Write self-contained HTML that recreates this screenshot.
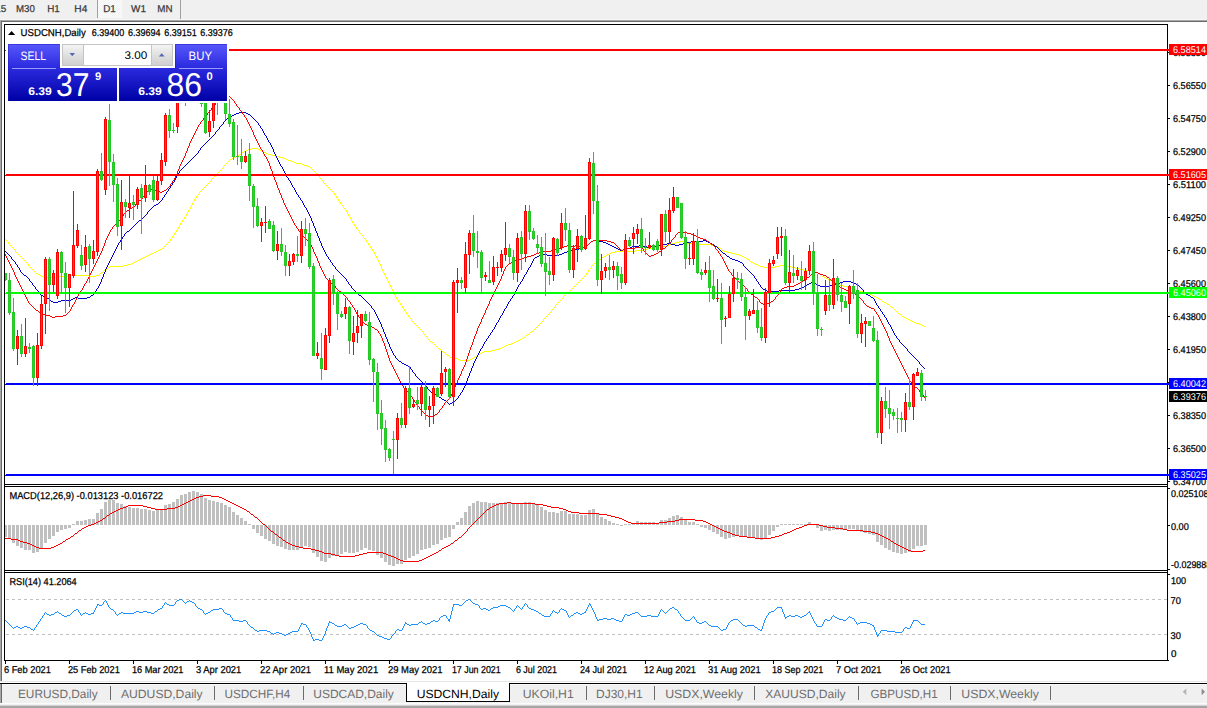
<!DOCTYPE html>
<html><head><meta charset="utf-8"><title>USDCNH,Daily</title>
<style>
html,body{margin:0;padding:0;background:#fff;}
body{width:1207px;height:708px;overflow:hidden;font-family:"Liberation Sans",sans-serif;}
svg{display:block;font-family:"Liberation Sans",sans-serif;text-rendering:geometricPrecision;}
svg rect, svg path.c{shape-rendering:crispEdges;}
</style></head><body>
<svg width="1207" height="708" viewBox="0 0 1207 708">
<defs>
<pattern id="dots" width="2" height="2" patternUnits="userSpaceOnUse"><rect width="2" height="2" fill="#f0f0f0"/><rect width="1" height="1" fill="#fff"/><rect x="1" y="1" width="1" height="1" fill="#fff"/></pattern>
<clipPath id="cm"><rect x="5" y="25" width="1162" height="459"/></clipPath>
<clipPath id="cmacd"><rect x="5" y="487" width="1162" height="83"/></clipPath>
<clipPath id="crsi"><rect x="5" y="573" width="1162" height="87"/></clipPath>
<linearGradient id="gb" x1="0" y1="0" x2="0" y2="1"><stop offset="0" stop-color="#5858fc"/><stop offset="0.4" stop-color="#2c2ce0"/><stop offset="1" stop-color="#0000a6"/></linearGradient>
<linearGradient id="gg" x1="0" y1="0" x2="0" y2="1"><stop offset="0" stop-color="#f4f4f4"/><stop offset="0.5" stop-color="#e0e0e0"/><stop offset="1" stop-color="#d0d0d0"/></linearGradient>
</defs>
<rect x="0" y="0" width="1207" height="708" fill="#fff" />
<rect x="0" y="0" width="1207" height="19" fill="#f0f0f0" />
<rect x="0" y="19" width="1207" height="1" fill="#f6f6f6" />
<rect x="0" y="20" width="1207" height="1" fill="#a8a8a8" />
<rect x="0" y="21" width="1207" height="1" fill="#696969" />
<rect x="0" y="21" width="1" height="660" fill="#a8a8a8" />
<rect x="1" y="22" width="1" height="659" fill="#696969" />
<text x="-4.8" y="11.8" font-size="10" fill="#3a3a3a" stroke="#3a3a3a" stroke-width="0.25" textLength="11" lengthAdjust="spacingAndGlyphs" >15</text>
<text x="16.0" y="11.8" font-size="10" fill="#3a3a3a" stroke="#3a3a3a" stroke-width="0.25" textLength="18.8" lengthAdjust="spacingAndGlyphs" >M30</text>
<text x="47.2" y="11.8" font-size="10" fill="#3a3a3a" stroke="#3a3a3a" stroke-width="0.25" textLength="12.6" lengthAdjust="spacingAndGlyphs" >H1</text>
<text x="74.3" y="11.8" font-size="10" fill="#3a3a3a" stroke="#3a3a3a" stroke-width="0.25" textLength="13" lengthAdjust="spacingAndGlyphs" >H4</text>
<rect x="97" y="0" width="1" height="18" fill="#a0a0a0" />
<rect x="98" y="0" width="24" height="18" fill="url(#dots)" />
<text x="103.2" y="11.8" font-size="10" fill="#3a3a3a" stroke="#3a3a3a" stroke-width="0.25" textLength="12.6" lengthAdjust="spacingAndGlyphs" >D1</text>
<text x="131.0" y="11.8" font-size="10" fill="#3a3a3a" stroke="#3a3a3a" stroke-width="0.25" textLength="14.9" lengthAdjust="spacingAndGlyphs" >W1</text>
<text x="157.3" y="11.8" font-size="10" fill="#3a3a3a" stroke="#3a3a3a" stroke-width="0.25" textLength="15.2" lengthAdjust="spacingAndGlyphs" >MN</text>
<rect x="180" y="0" width="1" height="19" fill="#a0a0a0" />
<rect x="4" y="24" width="1164" height="1" fill="#000" />
<rect x="4" y="484" width="1164" height="1" fill="#000" />
<rect x="4" y="486" width="1164" height="1" fill="#000" />
<rect x="4" y="570" width="1164" height="1" fill="#000" />
<rect x="4" y="572" width="1164" height="1" fill="#000" />
<rect x="4" y="660" width="1164" height="1" fill="#000" />
<rect x="4" y="24" width="1" height="637" fill="#000" />
<rect x="1167" y="24" width="1" height="637" fill="#000" />
<rect x="1168" y="85" width="2" height="1" fill="#000" />
<text x="1173" y="89" font-size="9.8" fill="#000" stroke="#000" stroke-width="0.25" textLength="33" lengthAdjust="spacingAndGlyphs" >6.56550</text>
<rect x="1168" y="118" width="2" height="1" fill="#000" />
<text x="1173" y="122" font-size="9.8" fill="#000" stroke="#000" stroke-width="0.25" textLength="33" lengthAdjust="spacingAndGlyphs" >6.54750</text>
<rect x="1168" y="151" width="2" height="1" fill="#000" />
<text x="1173" y="155" font-size="9.8" fill="#000" stroke="#000" stroke-width="0.25" textLength="33" lengthAdjust="spacingAndGlyphs" >6.52900</text>
<rect x="1168" y="184" width="2" height="1" fill="#000" />
<text x="1173" y="188" font-size="9.8" fill="#000" stroke="#000" stroke-width="0.25" textLength="33" lengthAdjust="spacingAndGlyphs" >6.51100</text>
<rect x="1168" y="217" width="2" height="1" fill="#000" />
<text x="1173" y="221" font-size="9.8" fill="#000" stroke="#000" stroke-width="0.25" textLength="33" lengthAdjust="spacingAndGlyphs" >6.49250</text>
<rect x="1168" y="250" width="2" height="1" fill="#000" />
<text x="1173" y="254" font-size="9.8" fill="#000" stroke="#000" stroke-width="0.25" textLength="33" lengthAdjust="spacingAndGlyphs" >6.47450</text>
<rect x="1168" y="283" width="2" height="1" fill="#000" />
<text x="1173" y="287" font-size="9.8" fill="#000" stroke="#000" stroke-width="0.25" textLength="33" lengthAdjust="spacingAndGlyphs" >6.45600</text>
<rect x="1168" y="316" width="2" height="1" fill="#000" />
<text x="1173" y="320" font-size="9.8" fill="#000" stroke="#000" stroke-width="0.25" textLength="33" lengthAdjust="spacingAndGlyphs" >6.43800</text>
<rect x="1168" y="349" width="2" height="1" fill="#000" />
<text x="1173" y="353" font-size="9.8" fill="#000" stroke="#000" stroke-width="0.25" textLength="33" lengthAdjust="spacingAndGlyphs" >6.41950</text>
<rect x="1168" y="382" width="2" height="1" fill="#000" />
<text x="1173" y="386" font-size="9.8" fill="#000" stroke="#000" stroke-width="0.25" textLength="33" lengthAdjust="spacingAndGlyphs" >6.40150</text>
<rect x="1168" y="415" width="2" height="1" fill="#000" />
<text x="1173" y="419" font-size="9.8" fill="#000" stroke="#000" stroke-width="0.25" textLength="33" lengthAdjust="spacingAndGlyphs" >6.38350</text>
<rect x="1168" y="448" width="2" height="1" fill="#000" />
<text x="1173" y="452" font-size="9.8" fill="#000" stroke="#000" stroke-width="0.25" textLength="33" lengthAdjust="spacingAndGlyphs" >6.36500</text>
<rect x="1168" y="481" width="2" height="1" fill="#000" />
<text x="1173" y="485" font-size="9.8" fill="#000" stroke="#000" stroke-width="0.25" textLength="33" lengthAdjust="spacingAndGlyphs" >6.34700</text>
<rect x="1168" y="52" width="2" height="1" fill="#000" />
<text x="1173" y="56" font-size="9.8" fill="#000" stroke="#000" stroke-width="0.25" textLength="33" lengthAdjust="spacingAndGlyphs" >6.58350</text>
<g clip-path="url(#cm)">
<path class="c" d="M5 239h1v1h-1zM6 240h1v1h-1zM7 241h1v1h-1zM8 242h1v2h-1zM9 244h1v1h-1zM10 245h1v1h-1zM11 246h1v1h-1zM12 247h1v1h-1zM13 248h1v1h-1zM14 249h1v1h-1zM15 250h1v2h-1zM16 252h1v1h-1zM17 253h1v1h-1zM18 254h1v1h-1zM19 255h1v1h-1zM20 256h1v1h-1zM21 257h1v1h-1zM22 258h1v1h-1zM23 259h1v1h-1zM24 260h1v1h-1zM25 261h1v1h-1zM26 262h1v1h-1zM27 263h1v1h-1zM28 264h1v2h-1zM29 266h1v1h-1zM30 267h1v1h-1zM31 268h1v1h-1zM32 269h1v1h-1zM33 270h1v1h-1zM34 271h1v1h-1zM35 272h1v1h-1zM36 273h2v1h-2zM38 274h2v1h-2zM40 275h1v1h-1zM41 276h2v1h-2zM43 277h1v1h-1zM44 277h5v1h-5zM49 277h7v1h-7zM56 276h7v1h-7zM63 276h8v1h-8zM71 275h8v1h-8zM79 275h8v1h-8zM87 275h3v1h-3zM90 276h3v1h-3zM93 276h3v1h-3zM96 275h2v1h-2zM98 275h1v1h-1zM99 274h1v1h-1zM100 273h1v1h-1zM101 272h2v1h-2zM103 271h1v1h-1zM104 270h1v1h-1zM105 269h2v1h-2zM107 268h1v1h-1zM108 267h2v1h-2zM110 266h11v1h-11zM121 266h2v1h-2zM123 265h4v1h-4zM127 264h4v1h-4zM131 263h1v1h-1zM132 263h1v1h-1zM133 262h2v1h-2zM135 261h2v1h-2zM137 260h2v1h-2zM139 259h2v1h-2zM141 258h2v1h-2zM143 257h2v1h-2zM145 256h2v1h-2zM147 255h2v1h-2zM149 254h2v1h-2zM151 253h1v1h-1zM152 253h2v1h-2zM154 252h2v1h-2zM156 251h2v1h-2zM158 250h2v1h-2zM160 249h1v1h-1zM161 249h1v1h-1zM162 248h1v1h-1zM163 247h1v1h-1zM164 246h1v1h-1zM165 245h1v1h-1zM166 244h1v1h-1zM167 243h1v1h-1zM168 242h1v1h-1zM169 241h1v1h-1zM170 239h1v2h-1zM171 238h1v1h-1zM172 236h1v2h-1zM173 235h1v1h-1zM174 233h1v2h-1zM175 232h1v1h-1zM176 230h1v2h-1zM177 229h1v1h-1zM178 227h1v2h-1zM179 225h1v2h-1zM180 223h1v2h-1zM181 222h1v1h-1zM182 220h1v2h-1zM183 219h1v1h-1zM184 217h1v2h-1zM185 216h1v1h-1zM186 214h1v2h-1zM187 212h1v2h-1zM188 210h1v2h-1zM189 209h1v1h-1zM190 207h1v2h-1zM191 205h1v2h-1zM192 203h1v2h-1zM193 202h1v1h-1zM193 201h1v1h-1zM194 199h1v2h-1zM195 198h1v1h-1zM196 196h1v2h-1zM197 195h1v1h-1zM198 194h1v1h-1zM199 192h1v2h-1zM200 191h1v1h-1zM201 190h1v1h-1zM202 189h1v1h-1zM203 188h1v1h-1zM204 187h1v1h-1zM205 186h1v1h-1zM206 185h1v1h-1zM207 184h1v1h-1zM208 183h1v1h-1zM209 182h1v1h-1zM210 181h1v1h-1zM211 179h1v2h-1zM212 178h1v1h-1zM213 177h1v1h-1zM214 176h1v1h-1zM215 175h1v1h-1zM216 174h1v1h-1zM217 173h1v1h-1zM218 172h1v1h-1zM219 171h1v1h-1zM220 170h1v1h-1zM221 169h1v1h-1zM222 168h1v1h-1zM223 166h1v2h-1zM224 165h1v1h-1zM225 164h1v1h-1zM226 163h1v1h-1zM227 162h1v1h-1zM228 161h1v1h-1zM229 160h1v1h-1zM230 159h2v1h-2zM232 158h1v1h-1zM233 158h1v1h-1zM234 157h2v1h-2zM236 156h1v1h-1zM237 156h1v1h-1zM238 155h1v1h-1zM239 154h2v1h-2zM241 153h1v1h-1zM242 152h2v1h-2zM244 151h1v1h-1zM245 151h1v1h-1zM246 150h2v1h-2zM248 149h1v1h-1zM249 149h2v1h-2zM251 148h2v1h-2zM253 148h4v1h-4zM257 148h1v1h-1zM258 149h2v1h-2zM260 150h1v1h-1zM261 150h1v1h-1zM262 151h2v1h-2zM264 152h1v1h-1zM265 152h1v1h-1zM266 153h2v1h-2zM268 154h1v1h-1zM269 154h2v1h-2zM271 155h2v1h-2zM273 155h2v1h-2zM275 156h2v1h-2zM277 156h2v1h-2zM279 157h2v1h-2zM281 157h2v1h-2zM283 158h2v1h-2zM285 158h1v1h-1zM286 159h2v1h-2zM288 160h1v1h-1zM289 160h2v1h-2zM291 161h2v1h-2zM293 161h1v1h-1zM294 162h2v1h-2zM296 163h1v1h-1zM297 163h4v1h-4zM301 163h1v1h-1zM302 164h2v1h-2zM304 165h1v1h-1zM305 165h2v1h-2zM307 166h2v1h-2zM309 166h1v1h-1zM310 167h1v1h-1zM311 168h1v1h-1zM312 169h1v1h-1zM313 170h1v1h-1zM314 171h1v1h-1zM315 172h1v1h-1zM316 173h1v1h-1zM317 174h1v1h-1zM318 175h1v1h-1zM319 176h1v2h-1zM320 178h1v1h-1zM321 179h1v1h-1zM322 180h1v1h-1zM323 181h1v2h-1zM324 183h1v1h-1zM325 184h1v1h-1zM326 185h1v1h-1zM327 186h1v1h-1zM328 187h1v1h-1zM329 188h1v1h-1zM330 189h1v1h-1zM331 190h1v1h-1zM332 191h1v1h-1zM333 192h1v1h-1zM334 193h1v2h-1zM335 195h1v1h-1zM336 196h1v2h-1zM337 198h1v1h-1zM338 199h1v2h-1zM339 201h1v1h-1zM340 202h1v2h-1zM341 204h1v1h-1zM342 205h1v1h-1zM343 206h1v2h-1zM344 208h1v1h-1zM345 209h1v1h-1zM346 210h1v2h-1zM347 212h1v2h-1zM348 214h1v2h-1zM349 216h1v1h-1zM350 217h1v2h-1zM351 219h1v2h-1zM352 221h1v2h-1zM353 223h1v1h-1zM354 224h1v2h-1zM355 226h1v1h-1zM356 227h1v2h-1zM357 229h1v1h-1zM358 230h1v1h-1zM359 231h1v2h-1zM360 233h1v1h-1zM361 234h1v1h-1zM362 235h1v1h-1zM363 236h1v2h-1zM364 238h1v1h-1zM365 239h1v1h-1zM366 240h1v2h-1zM367 242h1v1h-1zM368 243h1v2h-1zM369 245h1v1h-1zM370 246h1v2h-1zM371 248h1v1h-1zM372 249h1v2h-1zM373 251h1v1h-1zM374 252h1v2h-1zM375 254h1v2h-1zM376 256h1v2h-1zM377 258h1v1h-1zM377 259h1v1h-1zM378 260h1v2h-1zM379 262h1v2h-1zM380 264h1v2h-1zM381 266h1v1h-1zM381 267h1v2h-1zM382 269h1v2h-1zM383 271h1v2h-1zM384 273h1v2h-1zM385 275h1v1h-1zM385 276h1v1h-1zM386 277h1v2h-1zM387 279h1v2h-1zM388 281h1v2h-1zM389 283h1v1h-1zM389 284h1v1h-1zM390 285h1v2h-1zM391 287h1v2h-1zM392 289h1v2h-1zM393 291h1v1h-1zM393 292h1v1h-1zM394 293h1v2h-1zM395 295h1v2h-1zM396 297h1v2h-1zM397 299h1v1h-1zM398 300h1v2h-1zM399 302h1v1h-1zM400 303h1v2h-1zM401 305h1v1h-1zM402 306h1v2h-1zM403 308h1v1h-1zM404 309h1v2h-1zM405 311h1v1h-1zM406 312h1v2h-1zM407 314h1v1h-1zM408 315h1v2h-1zM409 317h1v1h-1zM410 318h1v1h-1zM411 319h1v2h-1zM412 321h1v1h-1zM413 322h1v1h-1zM414 323h1v1h-1zM415 324h1v1h-1zM416 325h1v1h-1zM417 326h1v1h-1zM418 327h1v1h-1zM419 328h1v1h-1zM420 329h1v1h-1zM421 330h1v1h-1zM422 331h1v1h-1zM423 332h1v2h-1zM424 334h1v1h-1zM425 335h1v1h-1zM426 336h1v1h-1zM427 337h1v2h-1zM428 339h1v1h-1zM429 340h1v1h-1zM430 341h1v1h-1zM431 342h2v1h-2zM433 343h1v1h-1zM434 344h1v1h-1zM435 345h1v1h-1zM436 346h1v1h-1zM437 347h1v1h-1zM438 348h1v1h-1zM439 349h2v1h-2zM441 350h1v1h-1zM442 351h1v1h-1zM443 352h2v1h-2zM445 353h1v1h-1zM446 354h1v1h-1zM447 355h2v1h-2zM449 356h1v1h-1zM450 357h2v1h-2zM452 358h1v1h-1zM453 358h4v1h-4zM457 358h1v1h-1zM458 359h2v1h-2zM460 360h1v1h-1zM461 360h4v1h-4zM465 360h4v1h-4zM469 360h1v1h-1zM470 359h2v1h-2zM472 358h1v1h-1zM473 358h1v1h-1zM474 357h1v1h-1zM475 356h2v1h-2zM477 355h1v1h-1zM478 354h2v1h-2zM480 353h1v1h-1zM481 353h1v1h-1zM482 352h2v1h-2zM484 351h1v1h-1zM485 351h4v1h-4zM489 351h2v1h-2zM491 350h2v1h-2zM493 350h2v1h-2zM495 349h2v1h-2zM497 349h2v1h-2zM499 348h2v1h-2zM501 348h1v1h-1zM502 347h2v1h-2zM504 346h1v1h-1zM505 346h1v1h-1zM506 345h2v1h-2zM508 344h1v1h-1zM509 344h2v1h-2zM511 343h2v1h-2zM513 343h1v1h-1zM514 342h2v1h-2zM516 341h1v1h-1zM517 341h1v1h-1zM518 340h2v1h-2zM520 339h1v1h-1zM521 339h1v1h-1zM522 338h1v1h-1zM523 337h2v1h-2zM525 336h1v1h-1zM526 335h1v1h-1zM527 334h2v1h-2zM529 333h1v1h-1zM530 332h1v1h-1zM531 331h2v1h-2zM533 330h1v1h-1zM534 329h1v1h-1zM535 328h1v1h-1zM536 327h1v1h-1zM537 326h1v1h-1zM538 325h1v1h-1zM539 324h1v1h-1zM540 323h1v1h-1zM541 322h1v1h-1zM542 321h1v1h-1zM543 319h1v2h-1zM544 318h1v1h-1zM545 317h1v1h-1zM546 316h1v1h-1zM547 315h1v1h-1zM548 314h1v1h-1zM549 313h1v1h-1zM550 312h1v1h-1zM551 310h1v2h-1zM552 309h1v1h-1zM553 308h1v1h-1zM554 307h1v1h-1zM555 305h1v2h-1zM556 304h1v1h-1zM557 303h1v1h-1zM558 302h1v1h-1zM559 301h1v1h-1zM560 300h1v1h-1zM561 299h1v1h-1zM562 298h1v1h-1zM563 296h1v2h-1zM564 295h1v1h-1zM565 294h1v1h-1zM566 293h1v1h-1zM567 292h2v1h-2zM569 291h1v1h-1zM570 290h1v1h-1zM571 289h1v1h-1zM572 288h1v1h-1zM573 287h1v1h-1zM574 286h1v1h-1zM575 285h1v1h-1zM576 284h1v1h-1zM577 283h1v1h-1zM578 282h1v1h-1zM579 281h1v1h-1zM580 280h1v1h-1zM581 279h1v1h-1zM582 278h1v1h-1zM583 277h1v1h-1zM584 276h1v1h-1zM585 275h1v1h-1zM586 273h1v2h-1zM587 272h1v1h-1zM588 270h1v2h-1zM589 269h1v1h-1zM590 268h1v1h-1zM591 266h1v2h-1zM592 265h1v1h-1zM593 264h1v1h-1zM594 263h1v1h-1zM595 262h2v1h-2zM597 261h1v1h-1zM598 260h1v1h-1zM599 259h2v1h-2zM601 258h1v1h-1zM602 257h2v1h-2zM604 256h1v1h-1zM605 256h1v1h-1zM606 255h1v1h-1zM607 254h2v1h-2zM609 253h2v1h-2zM611 252h2v1h-2zM613 252h2v1h-2zM615 251h2v1h-2zM617 251h4v1h-4zM621 251h4v1h-4zM625 251h4v1h-4zM629 251h4v1h-4zM633 251h2v1h-2zM635 250h2v1h-2zM637 250h4v1h-4zM641 250h2v1h-2zM643 249h2v1h-2zM645 249h2v1h-2zM647 248h2v1h-2zM649 248h4v1h-4zM653 248h2v1h-2zM655 247h2v1h-2zM657 247h2v1h-2zM659 246h2v1h-2zM661 246h4v1h-4zM665 246h2v1h-2zM667 245h2v1h-2zM669 245h1v1h-1zM670 244h2v1h-2zM672 243h1v1h-1zM673 243h2v1h-2zM675 242h2v1h-2zM677 242h2v1h-2zM679 241h2v1h-2zM681 241h2v1h-2zM683 242h2v1h-2zM685 242h2v1h-2zM687 243h2v1h-2zM689 243h4v1h-4zM693 243h2v1h-2zM695 244h2v1h-2zM697 244h4v1h-4zM701 244h4v1h-4zM705 244h4v1h-4zM709 244h2v1h-2zM711 245h2v1h-2zM713 245h2v1h-2zM715 246h2v1h-2zM717 246h1v1h-1zM718 247h1v1h-1zM719 248h2v1h-2zM721 249h1v1h-1zM722 250h2v1h-2zM724 251h1v1h-1zM725 251h2v1h-2zM727 252h2v1h-2zM729 252h2v1h-2zM731 253h2v1h-2zM733 253h2v1h-2zM735 254h2v1h-2zM737 254h2v1h-2zM739 255h2v1h-2zM741 255h1v1h-1zM742 256h2v1h-2zM744 257h1v1h-1zM745 257h1v1h-1zM746 258h1v1h-1zM747 259h2v1h-2zM749 260h1v1h-1zM750 261h1v1h-1zM751 262h2v1h-2zM753 263h2v1h-2zM755 264h2v1h-2zM757 264h1v1h-1zM758 265h2v1h-2zM760 266h1v1h-1zM761 266h2v1h-2zM763 267h2v1h-2zM765 267h4v1h-4zM769 267h4v1h-4zM773 267h2v1h-2zM775 266h2v1h-2zM777 266h2v1h-2zM779 265h2v1h-2zM781 265h4v1h-4zM785 265h2v1h-2zM787 266h2v1h-2zM789 266h2v1h-2zM791 267h2v1h-2zM793 267h2v1h-2zM795 268h2v1h-2zM797 268h2v1h-2zM799 269h2v1h-2zM801 269h2v1h-2zM803 270h2v1h-2zM805 270h4v1h-4zM809 270h2v1h-2zM811 271h2v1h-2zM813 271h2v1h-2zM815 272h2v1h-2zM817 272h1v1h-1zM818 273h1v1h-1zM819 274h2v1h-2zM821 275h1v1h-1zM822 276h2v1h-2zM824 277h1v1h-1zM825 277h1v1h-1zM826 278h2v1h-2zM828 279h1v1h-1zM829 279h1v1h-1zM830 280h2v1h-2zM832 281h1v1h-1zM833 281h1v1h-1zM834 282h2v1h-2zM836 283h1v1h-1zM837 283h1v1h-1zM838 284h2v1h-2zM840 285h1v1h-1zM841 285h2v1h-2zM843 286h2v1h-2zM845 286h2v1h-2zM847 287h2v1h-2zM849 287h2v1h-2zM851 288h2v1h-2zM853 288h1v1h-1zM854 289h2v1h-2zM856 290h1v1h-1zM857 290h2v1h-2zM859 291h2v1h-2zM861 291h2v1h-2zM863 292h2v1h-2zM865 292h2v1h-2zM867 293h2v1h-2zM869 293h1v1h-1zM870 294h2v1h-2zM872 295h1v1h-1zM873 295h1v1h-1zM874 296h2v1h-2zM876 297h1v1h-1zM877 297h1v1h-1zM878 298h1v1h-1zM879 299h2v1h-2zM881 300h1v1h-1zM882 301h2v1h-2zM884 302h1v1h-1zM885 302h1v1h-1zM886 303h1v1h-1zM887 304h2v1h-2zM889 305h1v1h-1zM890 306h1v1h-1zM891 307h2v1h-2zM893 308h1v1h-1zM894 309h1v1h-1zM895 310h1v1h-1zM896 311h1v1h-1zM897 312h1v1h-1zM898 313h1v1h-1zM899 314h2v1h-2zM901 315h1v1h-1zM902 316h2v1h-2zM904 317h1v1h-1zM905 317h1v1h-1zM906 318h2v1h-2zM908 319h1v1h-1zM909 319h1v1h-1zM910 320h2v1h-2zM912 321h1v1h-1zM913 321h1v1h-1zM914 322h2v1h-2zM916 323h1v1h-1zM917 323h2v1h-2zM919 324h2v1h-2zM921 324h1v1h-1zM922 325h2v1h-2zM924 326h1v1h-1z" fill="#ffff00"/>
<path class="c" d="M5 251h1v1h-1zM6 252h1v1h-1zM7 253h1v1h-1zM8 254h1v1h-1zM9 255h1v1h-1zM10 256h1v1h-1zM11 257h1v2h-1zM12 259h1v1h-1zM13 260h1v1h-1zM14 261h1v1h-1zM15 262h1v2h-1zM16 264h1v1h-1zM17 265h1v2h-1zM18 267h1v1h-1zM19 268h1v2h-1zM20 270h1v2h-1zM21 272h1v1h-1zM22 273h1v1h-1zM23 274h1v1h-1zM24 275h2v1h-2zM26 276h1v1h-1zM27 277h1v1h-1zM28 278h1v1h-1zM29 279h1v2h-1zM30 281h1v1h-1zM31 282h1v1h-1zM32 283h1v2h-1zM33 285h1v1h-1zM34 286h1v1h-1zM35 287h1v2h-1zM36 289h1v1h-1zM37 290h1v1h-1zM38 291h1v2h-1zM39 293h1v1h-1zM40 294h1v1h-1zM41 295h2v1h-2zM43 296h2v1h-2zM45 297h1v1h-1zM46 297h1v1h-1zM47 298h2v1h-2zM49 299h1v1h-1zM50 300h1v1h-1zM51 301h2v1h-2zM53 302h3v1h-3zM56 302h2v1h-2zM58 301h3v1h-3zM61 300h1v1h-1zM62 300h8v1h-8zM70 300h1v1h-1zM71 299h2v1h-2zM73 298h2v1h-2zM75 297h1v1h-1zM76 297h2v1h-2zM78 298h2v1h-2zM80 298h5v1h-5zM85 298h2v1h-2zM87 297h2v1h-2zM89 297h1v1h-1zM90 296h1v1h-1zM91 295h2v1h-2zM93 294h1v1h-1zM94 292h1v2h-1zM95 291h1v1h-1zM96 289h1v2h-1zM97 288h1v1h-1zM98 286h1v2h-1zM99 284h1v2h-1zM100 282h1v2h-1zM101 281h1v1h-1zM101 279h1v2h-1zM102 277h1v2h-1zM103 274h1v3h-1zM104 272h1v2h-1zM105 271h1v1h-1zM105 269h1v2h-1zM106 267h1v2h-1zM107 265h1v2h-1zM108 263h1v2h-1zM109 262h1v1h-1zM109 261h1v1h-1zM110 259h1v2h-1zM111 257h1v2h-1zM112 255h1v2h-1zM113 254h1v1h-1zM113 253h1v1h-1zM114 251h1v2h-1zM115 249h1v2h-1zM116 247h1v2h-1zM117 246h1v1h-1zM117 245h1v1h-1zM118 243h1v2h-1zM119 242h1v1h-1zM120 240h1v2h-1zM121 239h1v1h-1zM122 237h1v2h-1zM123 236h1v1h-1zM124 234h1v2h-1zM125 233h1v1h-1zM126 232h1v1h-1zM127 231h2v1h-2zM129 230h1v1h-1zM130 229h1v1h-1zM131 228h1v1h-1zM132 227h1v1h-1zM133 226h1v1h-1zM134 225h1v1h-1zM135 224h1v1h-1zM136 223h1v1h-1zM137 222h1v1h-1zM138 221h1v1h-1zM139 220h2v1h-2zM141 219h1v1h-1zM142 218h1v1h-1zM143 217h1v1h-1zM144 216h1v1h-1zM145 215h1v1h-1zM146 214h1v1h-1zM147 212h1v2h-1zM148 211h1v1h-1zM149 210h1v1h-1zM150 209h1v1h-1zM151 208h1v1h-1zM152 207h1v1h-1zM153 206h1v1h-1zM154 205h2v1h-2zM156 204h1v1h-1zM157 204h1v1h-1zM158 203h1v1h-1zM159 202h1v1h-1zM160 201h1v1h-1zM161 200h1v1h-1zM162 198h1v2h-1zM163 197h1v1h-1zM164 195h1v2h-1zM165 194h1v1h-1zM166 192h1v2h-1zM167 191h1v1h-1zM168 189h1v2h-1zM169 188h1v1h-1zM170 186h1v2h-1zM171 185h1v1h-1zM172 183h1v2h-1zM173 182h1v1h-1zM174 180h1v2h-1zM175 178h1v2h-1zM176 176h1v2h-1zM177 175h1v1h-1zM177 174h1v1h-1zM178 173h1v1h-1zM179 171h1v2h-1zM180 170h1v1h-1zM181 169h1v1h-1zM182 168h1v1h-1zM183 167h1v1h-1zM184 166h1v1h-1zM185 165h1v1h-1zM186 164h1v1h-1zM187 163h1v1h-1zM188 162h1v1h-1zM189 161h1v1h-1zM190 160h1v1h-1zM191 159h1v1h-1zM192 158h1v1h-1zM193 157h1v1h-1zM194 156h1v1h-1zM195 155h1v1h-1zM196 154h1v1h-1zM197 153h1v1h-1zM198 151h1v2h-1zM199 150h1v1h-1zM200 148h1v2h-1zM201 147h1v1h-1zM202 146h1v1h-1zM203 145h1v1h-1zM204 144h1v1h-1zM205 143h1v1h-1zM206 142h1v1h-1zM207 141h1v1h-1zM208 140h1v1h-1zM209 139h1v1h-1zM210 138h1v1h-1zM211 137h1v1h-1zM212 136h1v1h-1zM213 135h1v1h-1zM214 134h1v1h-1zM215 132h1v2h-1zM216 131h1v1h-1zM217 130h1v1h-1zM218 129h1v1h-1zM219 127h1v2h-1zM220 126h1v1h-1zM221 125h1v1h-1zM222 124h1v1h-1zM223 122h1v2h-1zM224 121h1v1h-1zM225 120h1v1h-1zM226 119h1v1h-1zM227 118h2v1h-2zM229 117h1v1h-1zM230 116h2v1h-2zM232 115h1v1h-1zM233 115h1v1h-1zM234 114h2v1h-2zM236 113h1v1h-1zM237 113h2v1h-2zM239 112h2v1h-2zM241 112h4v1h-4zM245 112h1v1h-1zM246 113h2v1h-2zM248 114h1v1h-1zM249 114h1v1h-1zM250 115h1v1h-1zM251 116h1v1h-1zM252 117h1v1h-1zM253 118h1v1h-1zM254 119h1v1h-1zM255 120h1v1h-1zM256 121h1v1h-1zM257 122h1v1h-1zM258 123h1v2h-1zM259 125h1v1h-1zM260 126h1v2h-1zM261 128h1v1h-1zM262 129h1v2h-1zM263 131h1v2h-1zM264 133h1v2h-1zM265 135h1v1h-1zM266 136h1v2h-1zM267 138h1v2h-1zM268 140h1v2h-1zM269 142h1v1h-1zM270 143h1v2h-1zM271 145h1v2h-1zM272 147h1v2h-1zM273 149h1v1h-1zM273 150h1v2h-1zM274 152h1v2h-1zM275 154h1v2h-1zM276 156h1v2h-1zM277 158h1v1h-1zM277 159h1v1h-1zM278 160h1v2h-1zM279 162h1v2h-1zM280 164h1v2h-1zM281 166h1v1h-1zM282 167h1v2h-1zM283 169h1v2h-1zM284 171h1v2h-1zM285 173h1v1h-1zM285 174h1v1h-1zM286 175h1v2h-1zM287 177h1v1h-1zM288 178h1v2h-1zM289 180h1v1h-1zM290 181h1v2h-1zM291 183h1v2h-1zM292 185h1v2h-1zM293 187h1v1h-1zM294 188h1v2h-1zM295 190h1v2h-1zM296 192h1v2h-1zM297 194h1v1h-1zM298 195h1v2h-1zM299 197h1v1h-1zM300 198h1v2h-1zM301 200h1v1h-1zM302 201h1v2h-1zM303 203h1v2h-1zM304 205h1v2h-1zM305 207h1v1h-1zM306 208h1v2h-1zM307 210h1v2h-1zM308 212h1v2h-1zM309 214h1v2h-1zM310 216h1v2h-1zM311 218h1v3h-1zM312 221h1v2h-1zM313 223h1v1h-1zM313 224h1v2h-1zM314 226h1v2h-1zM315 228h1v3h-1zM316 231h1v2h-1zM317 233h1v1h-1zM317 234h1v2h-1zM318 236h1v2h-1zM319 238h1v3h-1zM320 241h1v2h-1zM321 243h1v1h-1zM321 244h1v2h-1zM322 246h1v2h-1zM323 248h1v2h-1zM324 250h1v2h-1zM325 252h1v1h-1zM325 253h1v1h-1zM326 254h1v2h-1zM327 256h1v1h-1zM328 257h1v2h-1zM329 259h1v1h-1zM330 260h1v2h-1zM331 262h1v1h-1zM332 263h1v2h-1zM333 265h1v1h-1zM334 266h1v1h-1zM335 267h1v2h-1zM336 269h1v1h-1zM337 270h1v1h-1zM338 271h1v1h-1zM339 272h1v1h-1zM340 273h1v1h-1zM341 274h1v1h-1zM342 275h1v1h-1zM343 276h1v1h-1zM344 277h1v1h-1zM345 278h1v1h-1zM346 279h1v2h-1zM347 281h1v1h-1zM348 282h1v2h-1zM349 284h1v1h-1zM350 285h1v1h-1zM351 286h1v2h-1zM352 288h1v1h-1zM353 289h1v1h-1zM354 290h1v1h-1zM355 291h1v1h-1zM356 292h1v1h-1zM357 293h1v1h-1zM358 294h1v1h-1zM359 295h2v1h-2zM361 296h1v1h-1zM362 297h1v1h-1zM363 298h1v1h-1zM364 299h1v1h-1zM365 300h1v1h-1zM366 301h1v1h-1zM367 302h1v1h-1zM368 303h1v1h-1zM369 304h1v1h-1zM370 305h1v1h-1zM371 306h1v2h-1zM372 308h1v1h-1zM373 309h1v1h-1zM374 310h1v2h-1zM375 312h1v2h-1zM376 314h1v2h-1zM377 316h1v2h-1zM378 318h1v2h-1zM379 320h1v2h-1zM380 322h1v2h-1zM381 324h1v1h-1zM381 325h1v2h-1zM382 327h1v2h-1zM383 329h1v3h-1zM384 332h1v2h-1zM385 334h1v1h-1zM385 335h1v2h-1zM386 337h1v2h-1zM387 339h1v3h-1zM388 342h1v2h-1zM389 344h1v1h-1zM389 345h1v2h-1zM390 347h1v2h-1zM391 349h1v2h-1zM392 351h1v2h-1zM393 353h1v1h-1zM393 354h1v1h-1zM394 355h1v1h-1zM395 356h1v2h-1zM396 358h1v1h-1zM397 359h1v1h-1zM398 360h1v1h-1zM399 361h2v1h-2zM401 362h1v1h-1zM402 363h2v1h-2zM404 364h1v1h-1zM405 364h1v1h-1zM406 365h2v1h-2zM408 366h1v1h-1zM409 366h1v1h-1zM410 367h1v2h-1zM411 369h1v1h-1zM412 370h1v2h-1zM413 372h1v1h-1zM414 373h1v1h-1zM415 374h1v2h-1zM416 376h1v1h-1zM417 377h1v1h-1zM418 378h1v1h-1zM419 379h1v1h-1zM420 380h1v1h-1zM421 381h1v1h-1zM422 382h1v1h-1zM423 383h1v1h-1zM424 384h1v1h-1zM425 385h1v1h-1zM426 386h1v1h-1zM427 387h1v2h-1zM428 389h1v1h-1zM429 390h1v1h-1zM430 391h1v1h-1zM431 392h2v1h-2zM433 393h1v1h-1zM434 394h2v1h-2zM436 395h1v1h-1zM437 395h1v1h-1zM438 396h1v1h-1zM439 397h2v1h-2zM441 398h1v1h-1zM442 399h2v1h-2zM444 400h1v1h-1zM445 400h1v1h-1zM446 401h1v1h-1zM447 402h1v1h-1zM448 403h1v1h-1zM449 404h1v1h-1zM450 403h2v1h-2zM452 402h1v1h-1zM453 402h1v1h-1zM454 401h1v1h-1zM455 400h1v1h-1zM456 399h1v1h-1zM457 398h1v1h-1zM458 396h1v2h-1zM459 395h1v1h-1zM460 393h1v2h-1zM461 392h1v1h-1zM462 390h1v2h-1zM463 388h1v2h-1zM464 386h1v2h-1zM465 385h1v1h-1zM465 383h1v2h-1zM466 381h1v2h-1zM467 378h1v3h-1zM468 376h1v2h-1zM469 375h1v1h-1zM469 373h1v2h-1zM470 371h1v2h-1zM471 368h1v3h-1zM472 366h1v2h-1zM473 365h1v1h-1zM473 363h1v2h-1zM474 361h1v2h-1zM475 359h1v2h-1zM476 357h1v2h-1zM477 356h1v1h-1zM477 355h1v1h-1zM478 353h1v2h-1zM479 351h1v2h-1zM480 349h1v2h-1zM481 348h1v1h-1zM482 346h1v2h-1zM483 344h1v2h-1zM484 342h1v2h-1zM485 341h1v1h-1zM486 339h1v2h-1zM487 338h1v1h-1zM488 336h1v2h-1zM489 335h1v1h-1zM490 333h1v2h-1zM491 332h1v1h-1zM492 330h1v2h-1zM493 329h1v1h-1zM494 327h1v2h-1zM495 325h1v2h-1zM496 323h1v2h-1zM497 322h1v1h-1zM498 320h1v2h-1zM499 318h1v2h-1zM500 316h1v2h-1zM501 315h1v1h-1zM502 313h1v2h-1zM503 311h1v2h-1zM504 309h1v2h-1zM505 308h1v1h-1zM506 306h1v2h-1zM507 304h1v2h-1zM508 302h1v2h-1zM509 301h1v1h-1zM510 299h1v2h-1zM511 298h1v1h-1zM512 296h1v2h-1zM513 295h1v1h-1zM514 293h1v2h-1zM515 291h1v2h-1zM516 289h1v2h-1zM517 288h1v1h-1zM517 287h1v1h-1zM518 285h1v2h-1zM519 284h1v1h-1zM520 282h1v2h-1zM521 281h1v1h-1zM522 279h1v2h-1zM523 277h1v2h-1zM524 275h1v2h-1zM525 274h1v1h-1zM526 272h1v2h-1zM527 270h1v2h-1zM528 268h1v2h-1zM529 267h1v1h-1zM530 265h1v2h-1zM531 263h1v2h-1zM532 261h1v2h-1zM533 260h1v1h-1zM533 259h1v1h-1zM534 258h1v1h-1zM535 257h2v1h-2zM537 256h2v1h-2zM539 255h2v1h-2zM541 255h2v1h-2zM543 254h2v1h-2zM545 254h2v1h-2zM547 255h2v1h-2zM549 255h4v1h-4zM553 255h4v1h-4zM557 255h2v1h-2zM559 254h2v1h-2zM561 254h1v1h-1zM562 253h2v1h-2zM564 252h1v1h-1zM565 252h2v1h-2zM567 251h2v1h-2zM569 251h2v1h-2zM571 250h2v1h-2zM573 250h2v1h-2zM575 249h2v1h-2zM577 249h2v1h-2zM579 248h2v1h-2zM581 248h2v1h-2zM583 247h2v1h-2zM585 247h1v1h-1zM586 246h1v1h-1zM587 245h1v1h-1zM588 244h1v1h-1zM589 243h1v1h-1zM590 242h1v1h-1zM591 241h2v1h-2zM593 240h4v1h-4zM597 240h2v1h-2zM599 241h2v1h-2zM601 241h2v1h-2zM603 242h2v1h-2zM605 242h1v1h-1zM606 243h2v1h-2zM608 244h1v1h-1zM609 244h1v1h-1zM610 245h2v1h-2zM612 246h1v1h-1zM613 246h1v1h-1zM614 247h2v1h-2zM616 248h1v1h-1zM617 248h1v1h-1zM618 249h2v1h-2zM620 250h1v1h-1zM621 250h2v1h-2zM623 249h2v1h-2zM625 249h2v1h-2zM627 248h2v1h-2zM629 248h1v1h-1zM630 247h2v1h-2zM632 246h1v1h-1zM633 246h4v1h-4zM637 246h2v1h-2zM639 245h2v1h-2zM641 245h2v1h-2zM643 246h2v1h-2zM645 246h2v1h-2zM647 247h2v1h-2zM649 247h2v1h-2zM651 246h2v1h-2zM653 246h4v1h-4zM657 246h2v1h-2zM659 245h2v1h-2zM661 245h2v1h-2zM663 244h2v1h-2zM665 244h2v1h-2zM667 243h2v1h-2zM669 243h2v1h-2zM671 244h2v1h-2zM673 244h2v1h-2zM675 245h2v1h-2zM677 245h2v1h-2zM679 244h2v1h-2zM681 244h2v1h-2zM683 243h2v1h-2zM685 243h2v1h-2zM687 242h2v1h-2zM689 242h2v1h-2zM691 241h2v1h-2zM693 241h4v1h-4zM697 241h4v1h-4zM701 241h2v1h-2zM703 240h2v1h-2zM705 240h1v1h-1zM706 241h2v1h-2zM708 242h1v1h-1zM709 242h1v1h-1zM710 243h2v1h-2zM712 244h1v1h-1zM713 244h1v1h-1zM714 245h1v1h-1zM715 246h2v1h-2zM717 247h1v1h-1zM718 248h1v1h-1zM719 249h1v1h-1zM720 250h1v1h-1zM721 251h1v1h-1zM722 252h1v1h-1zM723 253h2v1h-2zM725 254h1v1h-1zM726 255h1v1h-1zM727 256h2v1h-2zM729 257h1v1h-1zM730 258h2v1h-2zM732 259h1v1h-1zM733 259h2v1h-2zM735 260h2v1h-2zM737 260h1v1h-1zM738 261h2v1h-2zM740 262h1v1h-1zM741 262h1v1h-1zM742 263h1v1h-1zM743 264h1v2h-1zM744 266h1v1h-1zM745 267h1v1h-1zM746 268h1v1h-1zM747 269h1v1h-1zM748 270h1v1h-1zM749 271h1v1h-1zM750 272h1v1h-1zM751 273h1v1h-1zM752 274h1v1h-1zM753 275h1v1h-1zM754 276h1v2h-1zM755 278h1v1h-1zM756 279h1v2h-1zM757 281h1v1h-1zM758 282h1v2h-1zM759 284h1v1h-1zM760 285h1v2h-1zM761 287h1v1h-1zM762 288h1v1h-1zM763 289h2v1h-2zM765 290h2v1h-2zM767 291h2v1h-2zM769 291h4v1h-4zM773 291h4v1h-4zM777 291h2v1h-2zM779 290h2v1h-2zM781 290h4v1h-4zM785 290h4v1h-4zM789 290h4v1h-4zM793 290h2v1h-2zM795 289h2v1h-2zM797 289h2v1h-2zM799 288h2v1h-2zM801 288h1v1h-1zM802 287h2v1h-2zM804 286h1v1h-1zM805 286h1v1h-1zM806 285h1v1h-1zM807 284h2v1h-2zM809 283h2v1h-2zM811 282h2v1h-2zM813 282h1v1h-1zM814 283h2v1h-2zM816 284h1v1h-1zM817 284h1v1h-1zM818 285h2v1h-2zM820 286h1v1h-1zM821 286h4v1h-4zM825 286h4v1h-4zM829 286h1v1h-1zM830 285h2v1h-2zM832 284h1v1h-1zM833 284h4v1h-4zM837 284h1v1h-1zM838 283h2v1h-2zM840 282h1v1h-1zM841 282h2v1h-2zM843 281h2v1h-2zM845 281h4v1h-4zM849 281h2v1h-2zM851 282h2v1h-2zM853 282h1v1h-1zM854 283h2v1h-2zM856 284h1v1h-1zM857 284h1v1h-1zM858 285h1v1h-1zM859 286h1v1h-1zM860 287h1v1h-1zM861 288h1v1h-1zM862 289h1v1h-1zM863 290h1v2h-1zM864 292h1v1h-1zM865 293h1v1h-1zM866 294h2v1h-2zM868 295h1v1h-1zM869 295h1v1h-1zM870 296h1v1h-1zM871 297h2v1h-2zM873 298h1v1h-1zM874 299h1v2h-1zM875 301h1v2h-1zM876 303h1v2h-1zM877 305h1v1h-1zM878 306h1v2h-1zM879 308h1v1h-1zM880 309h1v2h-1zM881 311h1v1h-1zM882 312h1v2h-1zM883 314h1v1h-1zM884 315h1v2h-1zM885 317h1v1h-1zM886 318h1v2h-1zM887 320h1v2h-1zM888 322h1v2h-1zM889 324h1v1h-1zM890 325h1v2h-1zM891 327h1v2h-1zM892 329h1v2h-1zM893 331h1v1h-1zM893 332h1v1h-1zM894 333h1v2h-1zM895 335h1v1h-1zM896 336h1v2h-1zM897 338h1v1h-1zM898 339h1v1h-1zM899 340h1v2h-1zM900 342h1v1h-1zM901 343h1v1h-1zM902 344h1v1h-1zM903 345h1v1h-1zM904 346h1v1h-1zM905 347h1v1h-1zM906 348h1v1h-1zM907 349h1v2h-1zM908 351h1v1h-1zM909 352h1v1h-1zM910 353h1v1h-1zM911 354h1v1h-1zM912 355h1v1h-1zM913 356h1v1h-1zM914 357h1v1h-1zM915 358h1v1h-1zM916 359h1v1h-1zM917 360h1v1h-1zM918 361h1v1h-1zM919 362h1v2h-1zM920 364h1v1h-1zM921 365h1v1h-1zM922 366h1v1h-1zM923 367h1v1h-1zM924 368h1v1h-1z" fill="#0000cd"/>
<path class="c" d="M5 254h1v2h-1zM6 256h1v2h-1zM7 258h1v2h-1zM8 260h1v2h-1zM9 262h1v1h-1zM9 263h1v1h-1zM10 264h1v2h-1zM11 266h1v2h-1zM12 268h1v2h-1zM13 270h1v2h-1zM14 272h1v1h-1zM14 273h1v2h-1zM15 275h1v2h-1zM16 277h1v2h-1zM17 279h1v2h-1zM18 281h1v2h-1zM19 283h1v1h-1zM19 284h1v1h-1zM20 285h1v2h-1zM21 287h1v2h-1zM22 289h1v2h-1zM23 291h1v2h-1zM24 293h1v1h-1zM24 294h1v1h-1zM25 295h1v2h-1zM26 297h1v2h-1zM27 299h1v2h-1zM28 301h1v1h-1zM28 302h1v1h-1zM29 303h1v1h-1zM30 304h1v1h-1zM31 305h1v1h-1zM32 306h1v1h-1zM33 307h1v1h-1zM34 308h1v1h-1zM35 309h1v1h-1zM36 310h2v1h-2zM38 311h1v1h-1zM39 312h1v1h-1zM40 313h2v1h-2zM42 314h4v1h-4zM46 315h2v1h-2zM48 315h2v1h-2zM50 316h2v1h-2zM52 317h1v1h-1zM53 317h2v1h-2zM55 316h2v1h-2zM57 316h4v1h-4zM61 316h2v1h-2zM63 315h2v1h-2zM65 315h1v1h-1zM66 314h1v1h-1zM67 313h1v1h-1zM68 312h1v1h-1zM69 311h1v1h-1zM70 309h1v2h-1zM71 307h1v2h-1zM72 305h1v2h-1zM73 304h1v1h-1zM74 302h1v2h-1zM75 300h1v2h-1zM76 298h1v2h-1zM77 297h1v1h-1zM77 296h1v1h-1zM78 294h1v2h-1zM79 293h1v1h-1zM80 291h1v2h-1zM81 290h1v1h-1zM82 288h1v2h-1zM83 286h1v2h-1zM84 284h1v2h-1zM85 283h1v1h-1zM86 281h1v2h-1zM87 279h1v2h-1zM88 277h1v2h-1zM89 276h1v1h-1zM89 275h1v1h-1zM90 273h1v2h-1zM91 271h1v2h-1zM92 269h1v2h-1zM93 267h1v2h-1zM94 265h1v2h-1zM95 263h1v2h-1zM96 261h1v2h-1zM97 260h1v1h-1zM97 259h1v1h-1zM98 257h1v2h-1zM99 255h1v2h-1zM100 253h1v2h-1zM101 251h1v2h-1zM102 248h1v3h-1zM103 246h1v2h-1zM104 243h1v3h-1zM105 242h1v1h-1zM105 240h1v2h-1zM106 238h1v2h-1zM107 236h1v2h-1zM108 234h1v2h-1zM109 233h1v1h-1zM109 232h1v1h-1zM110 230h1v2h-1zM111 229h1v1h-1zM112 227h1v2h-1zM113 226h1v1h-1zM114 225h1v1h-1zM115 224h2v1h-2zM117 223h1v1h-1zM118 221h1v2h-1zM119 220h1v1h-1zM120 218h1v2h-1zM121 217h1v1h-1zM122 216h1v1h-1zM123 214h1v2h-1zM124 213h1v1h-1zM125 212h1v1h-1zM126 211h1v1h-1zM127 210h2v1h-2zM129 209h1v1h-1zM130 208h2v1h-2zM132 207h1v1h-1zM133 207h1v1h-1zM134 206h1v1h-1zM135 204h1v2h-1zM136 203h1v1h-1zM137 202h1v1h-1zM138 201h1v1h-1zM139 200h2v1h-2zM141 199h1v1h-1zM142 197h1v2h-1zM143 196h1v1h-1zM144 194h1v2h-1zM145 193h1v1h-1zM146 192h1v1h-1zM147 191h1v1h-1zM148 190h1v1h-1zM149 189h4v1h-4zM153 189h2v1h-2zM155 190h2v1h-2zM157 190h1v1h-1zM158 191h2v1h-2zM160 192h1v1h-1zM161 192h1v1h-1zM162 191h2v1h-2zM164 190h1v1h-1zM165 190h1v1h-1zM166 189h1v1h-1zM167 188h1v1h-1zM168 187h1v1h-1zM169 186h1v1h-1zM170 184h1v2h-1zM171 183h1v1h-1zM172 181h1v2h-1zM173 180h1v1h-1zM174 178h1v2h-1zM175 176h1v2h-1zM176 174h1v2h-1zM177 173h1v1h-1zM177 171h1v2h-1zM178 169h1v2h-1zM179 166h1v3h-1zM180 164h1v2h-1zM181 163h1v1h-1zM181 162h1v1h-1zM182 160h1v2h-1zM183 158h1v2h-1zM184 156h1v2h-1zM185 155h1v1h-1zM185 153h1v2h-1zM186 151h1v2h-1zM187 148h1v3h-1zM188 146h1v2h-1zM189 145h1v1h-1zM189 143h1v2h-1zM190 141h1v2h-1zM191 139h1v2h-1zM192 137h1v2h-1zM193 136h1v1h-1zM193 135h1v1h-1zM194 133h1v2h-1zM195 131h1v2h-1zM196 129h1v2h-1zM197 128h1v1h-1zM197 127h1v1h-1zM198 125h1v2h-1zM199 124h1v1h-1zM200 122h1v2h-1zM201 121h1v1h-1zM202 120h1v1h-1zM203 118h1v2h-1zM204 117h1v1h-1zM205 116h1v1h-1zM206 115h1v1h-1zM207 113h1v2h-1zM208 112h1v1h-1zM209 111h1v1h-1zM210 110h1v1h-1zM211 108h1v2h-1zM212 107h1v1h-1zM213 106h1v1h-1zM214 105h1v1h-1zM215 103h1v2h-1zM216 102h1v1h-1zM217 101h1v1h-1zM218 100h1v1h-1zM219 99h2v1h-2zM221 98h2v1h-2zM223 97h2v1h-2zM225 97h2v1h-2zM227 96h2v1h-2zM229 96h1v1h-1zM230 97h1v1h-1zM231 98h1v1h-1zM232 99h1v1h-1zM233 100h1v1h-1zM234 101h1v2h-1zM235 103h1v1h-1zM236 104h1v2h-1zM237 106h1v1h-1zM238 107h1v1h-1zM239 108h1v2h-1zM240 110h1v1h-1zM241 111h1v1h-1zM242 112h1v2h-1zM243 114h1v1h-1zM244 115h1v2h-1zM245 117h1v1h-1zM246 118h1v2h-1zM247 120h1v2h-1zM248 122h1v2h-1zM249 124h1v1h-1zM249 125h1v1h-1zM250 126h1v2h-1zM251 128h1v2h-1zM252 130h1v2h-1zM253 132h1v1h-1zM253 133h1v2h-1zM254 135h1v2h-1zM255 137h1v2h-1zM256 139h1v2h-1zM257 141h1v1h-1zM257 142h1v1h-1zM258 143h1v2h-1zM259 145h1v2h-1zM260 147h1v2h-1zM261 149h1v1h-1zM262 150h1v2h-1zM263 152h1v2h-1zM264 154h1v2h-1zM265 156h1v1h-1zM266 157h1v2h-1zM267 159h1v2h-1zM268 161h1v2h-1zM269 163h1v1h-1zM269 164h1v2h-1zM270 166h1v3h-1zM271 169h1v2h-1zM272 171h1v3h-1zM273 174h1v1h-1zM273 175h1v2h-1zM274 177h1v3h-1zM275 180h1v2h-1zM276 182h1v3h-1zM277 185h1v1h-1zM277 186h1v2h-1zM278 188h1v2h-1zM279 190h1v3h-1zM280 193h1v2h-1zM281 195h1v1h-1zM281 196h1v2h-1zM282 198h1v2h-1zM283 200h1v3h-1zM284 203h1v2h-1zM285 205h1v1h-1zM285 206h1v1h-1zM286 207h1v2h-1zM287 209h1v2h-1zM288 211h1v2h-1zM289 213h1v1h-1zM289 214h1v1h-1zM290 215h1v2h-1zM291 217h1v2h-1zM292 219h1v2h-1zM293 221h1v1h-1zM293 222h1v1h-1zM294 223h1v2h-1zM295 225h1v1h-1zM296 226h1v2h-1zM297 228h1v1h-1zM298 229h1v2h-1zM299 231h1v1h-1zM300 232h1v2h-1zM301 234h1v1h-1zM302 235h1v1h-1zM303 236h1v1h-1zM304 237h1v1h-1zM305 238h1v1h-1zM306 239h1v1h-1zM307 240h2v1h-2zM309 241h1v2h-1zM310 243h1v2h-1zM311 245h1v2h-1zM312 247h1v2h-1zM313 249h1v1h-1zM313 250h1v2h-1zM314 252h1v2h-1zM315 254h1v2h-1zM316 256h1v2h-1zM317 258h1v1h-1zM317 259h1v2h-1zM318 261h1v2h-1zM319 263h1v3h-1zM320 266h1v2h-1zM321 268h1v1h-1zM321 269h1v1h-1zM322 270h1v2h-1zM323 272h1v2h-1zM324 274h1v2h-1zM325 276h1v1h-1zM325 277h1v1h-1zM326 278h1v1h-1zM327 279h1v1h-1zM328 280h1v1h-1zM329 281h1v1h-1zM330 282h1v1h-1zM331 283h2v1h-2zM333 284h1v1h-1zM334 285h1v1h-1zM335 286h1v2h-1zM336 288h1v1h-1zM337 289h1v1h-1zM338 290h1v1h-1zM339 291h2v1h-2zM341 292h1v1h-1zM342 293h1v1h-1zM343 294h1v1h-1zM344 295h1v1h-1zM345 296h1v1h-1zM346 297h1v1h-1zM347 298h1v2h-1zM348 300h1v1h-1zM349 301h1v1h-1zM350 302h1v2h-1zM351 304h1v1h-1zM352 305h1v2h-1zM353 307h1v1h-1zM354 308h1v2h-1zM355 310h1v2h-1zM356 312h1v2h-1zM357 314h1v1h-1zM358 315h1v2h-1zM359 317h1v1h-1zM360 318h1v2h-1zM361 320h1v1h-1zM362 321h1v1h-1zM363 322h1v1h-1zM364 323h1v1h-1zM365 324h2v1h-2zM367 325h2v1h-2zM369 325h1v1h-1zM370 326h2v1h-2zM372 327h1v1h-1zM373 327h1v1h-1zM374 328h1v1h-1zM375 329h2v1h-2zM377 330h1v1h-1zM378 331h1v2h-1zM379 333h1v1h-1zM380 334h1v2h-1zM381 336h1v2h-1zM382 338h1v3h-1zM383 341h1v2h-1zM384 343h1v3h-1zM385 346h1v1h-1zM385 347h1v2h-1zM386 349h1v3h-1zM387 352h1v3h-1zM388 355h1v3h-1zM389 358h1v1h-1zM389 359h1v2h-1zM390 361h1v2h-1zM391 363h1v2h-1zM392 365h1v2h-1zM393 367h1v1h-1zM393 368h1v1h-1zM394 369h1v2h-1zM395 371h1v2h-1zM396 373h1v2h-1zM397 375h1v1h-1zM397 376h1v1h-1zM398 377h1v2h-1zM399 379h1v2h-1zM400 381h1v2h-1zM401 383h1v1h-1zM401 384h1v1h-1zM402 385h1v1h-1zM403 386h1v2h-1zM404 388h1v1h-1zM405 389h1v1h-1zM406 390h1v1h-1zM407 391h1v1h-1zM408 392h1v1h-1zM409 393h1v1h-1zM410 394h1v2h-1zM411 396h1v1h-1zM412 397h1v2h-1zM413 399h1v1h-1zM414 400h1v2h-1zM415 402h1v1h-1zM416 403h1v2h-1zM417 405h1v1h-1zM418 406h1v1h-1zM419 407h1v2h-1zM420 409h1v1h-1zM421 410h1v1h-1zM422 411h1v1h-1zM423 412h1v1h-1zM424 413h1v1h-1zM425 414h1v1h-1zM426 415h2v1h-2zM428 416h1v1h-1zM429 416h4v1h-4zM433 416h1v1h-1zM434 415h1v1h-1zM435 414h2v1h-2zM437 413h1v1h-1zM438 412h1v1h-1zM439 410h1v2h-1zM440 409h1v1h-1zM441 408h1v1h-1zM442 406h1v2h-1zM443 405h1v1h-1zM444 403h1v2h-1zM445 402h1v1h-1zM446 401h1v1h-1zM447 400h1v1h-1zM448 399h1v1h-1zM449 398h1v1h-1zM450 396h1v2h-1zM451 394h1v2h-1zM452 392h1v2h-1zM453 391h1v1h-1zM453 389h1v2h-1zM454 387h1v2h-1zM455 385h1v2h-1zM456 383h1v2h-1zM457 382h1v1h-1zM457 380h1v2h-1zM458 378h1v2h-1zM459 376h1v2h-1zM460 374h1v2h-1zM461 373h1v1h-1zM461 371h1v2h-1zM462 369h1v2h-1zM463 367h1v2h-1zM464 365h1v2h-1zM465 364h1v1h-1zM465 362h1v2h-1zM466 359h1v3h-1zM467 356h1v3h-1zM468 353h1v3h-1zM469 352h1v1h-1zM469 350h1v2h-1zM470 347h1v3h-1zM471 345h1v2h-1zM472 342h1v3h-1zM473 341h1v1h-1zM473 339h1v2h-1zM474 336h1v3h-1zM475 334h1v2h-1zM476 331h1v3h-1zM477 330h1v1h-1zM477 328h1v2h-1zM478 326h1v2h-1zM479 324h1v2h-1zM480 322h1v2h-1zM481 321h1v1h-1zM481 319h1v2h-1zM482 317h1v2h-1zM483 315h1v2h-1zM484 313h1v2h-1zM485 312h1v1h-1zM485 310h1v2h-1zM486 308h1v2h-1zM487 306h1v2h-1zM488 304h1v2h-1zM489 303h1v1h-1zM489 301h1v2h-1zM490 299h1v2h-1zM491 297h1v2h-1zM492 295h1v2h-1zM493 294h1v1h-1zM493 293h1v1h-1zM494 291h1v2h-1zM495 289h1v2h-1zM496 287h1v2h-1zM497 285h1v2h-1zM498 283h1v2h-1zM499 281h1v2h-1zM500 279h1v2h-1zM501 278h1v1h-1zM501 276h1v2h-1zM502 274h1v2h-1zM503 271h1v3h-1zM504 269h1v2h-1zM505 268h1v1h-1zM505 267h1v1h-1zM506 266h1v1h-1zM507 265h1v1h-1zM508 264h1v1h-1zM509 263h2v1h-2zM511 262h2v1h-2zM513 262h1v1h-1zM514 261h1v1h-1zM515 260h2v1h-2zM517 259h4v1h-4zM521 259h1v1h-1zM522 258h2v1h-2zM524 257h1v1h-1zM525 257h2v1h-2zM527 256h2v1h-2zM529 256h2v1h-2zM531 255h2v1h-2zM533 255h1v1h-1zM534 254h2v1h-2zM536 253h1v1h-1zM537 253h2v1h-2zM539 252h2v1h-2zM541 252h2v1h-2zM543 251h2v1h-2zM545 251h4v1h-4zM549 251h2v1h-2zM551 250h2v1h-2zM553 250h2v1h-2zM555 249h2v1h-2zM557 249h2v1h-2zM559 248h2v1h-2zM561 248h1v1h-1zM562 247h2v1h-2zM564 246h1v1h-1zM565 246h2v1h-2zM567 245h2v1h-2zM569 245h2v1h-2zM571 246h2v1h-2zM573 246h2v1h-2zM575 245h2v1h-2zM577 245h1v1h-1zM578 246h2v1h-2zM580 247h1v1h-1zM581 247h4v1h-4zM585 247h1v1h-1zM586 246h1v1h-1zM587 245h1v1h-1zM588 244h1v1h-1zM589 243h1v1h-1zM590 242h1v1h-1zM591 241h2v1h-2zM593 240h4v1h-4zM597 240h4v1h-4zM601 240h4v1h-4zM605 240h2v1h-2zM607 241h2v1h-2zM609 241h2v1h-2zM611 242h2v1h-2zM613 242h1v1h-1zM614 243h1v1h-1zM615 244h1v1h-1zM616 245h1v1h-1zM617 246h1v1h-1zM618 247h1v1h-1zM619 248h1v1h-1zM620 249h1v1h-1zM621 250h2v1h-2zM623 249h2v1h-2zM625 249h2v1h-2zM627 248h2v1h-2zM629 248h4v1h-4zM633 248h2v1h-2zM635 247h2v1h-2zM637 247h4v1h-4zM641 247h1v1h-1zM642 248h1v1h-1zM643 249h1v2h-1zM644 251h1v1h-1zM645 252h1v1h-1zM646 253h1v1h-1zM647 254h1v1h-1zM648 255h1v1h-1zM649 256h2v1h-2zM651 255h2v1h-2zM653 255h1v1h-1zM654 254h2v1h-2zM656 253h1v1h-1zM657 253h1v1h-1zM658 252h1v1h-1zM659 251h2v1h-2zM661 250h1v1h-1zM662 249h1v1h-1zM663 248h2v1h-2zM665 247h1v1h-1zM666 246h1v1h-1zM667 245h1v1h-1zM668 244h1v1h-1zM669 243h1v1h-1zM670 242h1v1h-1zM671 240h1v2h-1zM672 239h1v1h-1zM673 238h1v1h-1zM674 237h1v1h-1zM675 235h1v2h-1zM676 234h1v1h-1zM677 233h1v1h-1zM678 232h2v1h-2zM680 231h1v1h-1zM681 231h2v1h-2zM683 232h2v1h-2zM685 232h2v1h-2zM687 233h2v1h-2zM689 233h2v1h-2zM691 234h2v1h-2zM693 234h1v1h-1zM694 235h2v1h-2zM696 236h1v1h-1zM697 236h1v1h-1zM698 237h2v1h-2zM700 238h1v1h-1zM701 238h2v1h-2zM703 239h2v1h-2zM705 239h1v1h-1zM706 240h1v1h-1zM707 241h2v1h-2zM709 242h1v1h-1zM710 243h1v1h-1zM711 244h2v1h-2zM713 245h1v1h-1zM714 246h1v1h-1zM715 247h1v2h-1zM716 249h1v1h-1zM717 250h1v1h-1zM718 251h1v2h-1zM719 253h1v1h-1zM720 254h1v2h-1zM721 256h1v1h-1zM722 257h1v2h-1zM723 259h1v2h-1zM724 261h1v2h-1zM725 263h1v1h-1zM725 264h1v1h-1zM726 265h1v2h-1zM727 267h1v2h-1zM728 269h1v2h-1zM729 271h1v1h-1zM730 272h1v1h-1zM731 273h1v2h-1zM732 275h1v1h-1zM733 276h1v1h-1zM734 277h1v1h-1zM735 278h1v1h-1zM736 279h1v1h-1zM737 280h1v1h-1zM738 281h1v1h-1zM739 282h2v1h-2zM741 283h1v1h-1zM742 284h1v1h-1zM743 285h1v1h-1zM744 286h1v1h-1zM745 287h1v1h-1zM746 288h1v1h-1zM747 289h1v2h-1zM748 291h1v1h-1zM749 292h1v1h-1zM750 293h1v1h-1zM751 294h2v1h-2zM753 295h1v1h-1zM754 296h1v1h-1zM755 297h2v1h-2zM757 298h1v1h-1zM758 299h1v1h-1zM759 300h1v2h-1zM760 302h1v1h-1zM761 303h2v1h-2zM763 304h2v1h-2zM765 304h2v1h-2zM767 303h2v1h-2zM769 303h1v1h-1zM770 302h1v1h-1zM771 301h2v1h-2zM773 300h1v1h-1zM774 299h1v1h-1zM775 297h1v2h-1zM776 296h1v1h-1zM777 295h1v1h-1zM778 293h1v2h-1zM779 292h1v1h-1zM780 290h1v2h-1zM781 289h1v1h-1zM782 288h2v1h-2zM784 287h1v1h-1zM785 287h2v1h-2zM787 286h2v1h-2zM789 286h4v1h-4zM793 286h1v1h-1zM794 285h2v1h-2zM796 284h1v1h-1zM797 284h1v1h-1zM798 283h2v1h-2zM800 282h1v1h-1zM801 282h1v1h-1zM802 281h1v1h-1zM803 280h2v1h-2zM805 279h1v1h-1zM806 278h1v1h-1zM807 277h2v1h-2zM809 276h1v1h-1zM810 275h1v1h-1zM811 274h2v1h-2zM813 273h2v1h-2zM815 272h2v1h-2zM817 272h1v1h-1zM818 273h2v1h-2zM820 274h1v1h-1zM821 274h2v1h-2zM823 275h2v1h-2zM825 275h1v1h-1zM826 276h1v1h-1zM827 277h2v1h-2zM829 278h1v1h-1zM830 279h1v1h-1zM831 280h2v1h-2zM833 281h1v1h-1zM834 282h1v1h-1zM835 283h1v1h-1zM836 284h1v1h-1zM837 285h1v1h-1zM838 286h2v1h-2zM840 287h1v1h-1zM841 287h1v1h-1zM842 288h2v1h-2zM844 289h1v1h-1zM845 289h1v1h-1zM846 290h2v1h-2zM848 291h1v1h-1zM849 291h2v1h-2zM851 292h2v1h-2zM853 292h1v1h-1zM854 293h1v1h-1zM855 294h2v1h-2zM857 295h1v1h-1zM858 296h1v1h-1zM859 297h1v1h-1zM860 298h1v1h-1zM861 299h1v1h-1zM862 300h1v1h-1zM863 301h1v2h-1zM864 303h1v1h-1zM865 304h1v1h-1zM866 305h1v1h-1zM867 306h2v1h-2zM869 307h2v1h-2zM871 308h2v1h-2zM873 308h1v1h-1zM874 309h1v2h-1zM875 311h1v1h-1zM876 312h1v2h-1zM877 314h1v1h-1zM878 315h1v2h-1zM879 317h1v2h-1zM880 319h1v2h-1zM881 321h1v1h-1zM881 322h1v1h-1zM882 323h1v2h-1zM883 325h1v2h-1zM884 327h1v2h-1zM885 329h1v2h-1zM886 331h1v2h-1zM887 333h1v3h-1zM888 336h1v2h-1zM889 338h1v1h-1zM889 339h1v2h-1zM890 341h1v2h-1zM891 343h1v2h-1zM892 345h1v2h-1zM893 347h1v1h-1zM893 348h1v1h-1zM894 349h1v2h-1zM895 351h1v2h-1zM896 353h1v2h-1zM897 355h1v1h-1zM897 356h1v1h-1zM898 357h1v2h-1zM899 359h1v2h-1zM900 361h1v2h-1zM901 363h1v1h-1zM901 364h1v1h-1zM902 365h1v2h-1zM903 367h1v2h-1zM904 369h1v2h-1zM905 371h1v1h-1zM905 372h1v1h-1zM906 373h1v2h-1zM907 375h1v2h-1zM908 377h1v2h-1zM909 379h1v1h-1zM909 380h1v1h-1zM910 381h1v1h-1zM911 382h1v2h-1zM912 384h1v1h-1zM913 385h1v1h-1zM914 386h1v1h-1zM915 387h2v1h-2zM917 388h1v1h-1zM918 389h1v1h-1zM919 390h1v2h-1zM920 392h1v1h-1zM921 393h1v1h-1zM922 394h1v1h-1zM923 395h1v2h-1zM924 397h1v1h-1z" fill="#ff0000"/>
<rect x="6" y="49" width="1161" height="2" fill="#ff0000"/>
<rect x="5" y="50" width="1" height="1" fill="#ff0000"/>
<rect x="6" y="174" width="1161" height="2" fill="#ff0000"/>
<rect x="5" y="175" width="1" height="1" fill="#ff0000"/>
<rect x="6" y="292" width="1161" height="2" fill="#00ff00"/>
<rect x="5" y="293" width="1" height="1" fill="#00ff00"/>
<rect x="6" y="383" width="1161" height="2" fill="#0000ff"/>
<rect x="5" y="384" width="1" height="1" fill="#0000ff"/>
<rect x="6" y="474" width="1161" height="2" fill="#0000ff"/>
<rect x="5" y="475" width="1" height="1" fill="#0000ff"/>
<path class="c" d="M5 273h1v8h-1zM9 273h1v42h-1zM13 298h1v53h-1zM21 324h1v33h-1zM29 343h1v10h-1zM33 345h1v41h-1zM49 257h1v54h-1zM61 251h1v42h-1zM65 262h1v51h-1zM81 245h1v25h-1zM89 244h1v39h-1zM101 153h1v28h-1zM109 104h1v82h-1zM113 154h1v48h-1zM117 178h1v58h-1zM125 199h1v19h-1zM133 195h1v25h-1zM141 184h1v50h-1zM149 184h1v11h-1zM153 176h1v26h-1zM169 109h1v29h-1zM173 123h1v10h-1zM185 68h1v38h-1zM193 58h1v18h-1zM197 76h1v26h-1zM201 90h1v17h-1zM205 95h1v39h-1zM217 86h1v29h-1zM225 84h1v36h-1zM229 99h1v28h-1zM233 119h1v41h-1zM237 125h1v40h-1zM241 139h1v30h-1zM249 143h1v58h-1zM253 184h1v44h-1zM257 198h1v29h-1zM269 219h1v10h-1zM273 221h1v31h-1zM281 228h1v28h-1zM285 245h1v31h-1zM297 236h1v26h-1zM305 218h1v28h-1zM309 223h1v46h-1zM313 263h1v93h-1zM321 333h1v47h-1zM333 275h1v30h-1zM337 291h1v39h-1zM341 311h1v7h-1zM349 306h1v48h-1zM365 311h1v11h-1zM369 312h1v53h-1zM373 358h1v44h-1zM377 363h1v67h-1zM381 400h1v45h-1zM385 420h1v42h-1zM389 448h1v13h-1zM393 431h1v43h-1zM401 403h1v25h-1zM409 366h1v48h-1zM417 387h1v23h-1zM425 381h1v39h-1zM437 387h1v10h-1zM449 368h1v31h-1zM461 277h1v12h-1zM473 215h1v42h-1zM477 231h1v37h-1zM481 250h1v43h-1zM489 261h1v22h-1zM509 244h1v19h-1zM513 250h1v30h-1zM521 231h1v39h-1zM529 205h1v35h-1zM533 228h1v12h-1zM537 235h1v19h-1zM541 237h1v30h-1zM545 233h1v63h-1zM549 257h1v28h-1zM557 238h1v18h-1zM565 208h1v33h-1zM569 223h1v50h-1zM581 235h1v17h-1zM593 152h1v62h-1zM597 185h1v101h-1zM609 255h1v25h-1zM617 262h1v28h-1zM621 267h1v22h-1zM629 237h1v10h-1zM641 218h1v35h-1zM645 238h1v17h-1zM653 244h1v7h-1zM657 239h1v13h-1zM665 210h1v32h-1zM677 197h1v11h-1zM681 203h1v36h-1zM685 231h1v38h-1zM697 229h1v45h-1zM701 269h1v11h-1zM709 256h1v46h-1zM713 270h1v30h-1zM721 283h1v61h-1zM737 272h1v17h-1zM741 273h1v28h-1zM745 287h1v53h-1zM757 301h1v32h-1zM761 308h1v33h-1zM785 229h1v56h-1zM793 255h1v28h-1zM801 261h1v29h-1zM813 242h1v63h-1zM817 274h1v62h-1zM821 327h1v9h-1zM829 278h1v33h-1zM837 276h1v25h-1zM841 283h1v29h-1zM845 296h1v12h-1zM853 270h1v29h-1zM857 283h1v55h-1zM869 321h1v5h-1zM873 316h1v26h-1zM877 331h1v107h-1zM885 387h1v31h-1zM889 390h1v39h-1zM893 409h1v11h-1zM897 408h1v25h-1zM901 412h1v20h-1zM909 379h1v31h-1zM921 370h1v31h-1zM925 390h1v11h-1zM4 273h3v7h-3zM8 280h3v33h-3zM12 312h3v37h-3zM20 336h3v18h-3zM28 347h3v2h-3zM32 346h3v32h-3zM48 259h3v26h-3zM60 252h3v21h-3zM64 273h3v15h-3zM80 255h3v11h-3zM88 246h3v13h-3zM100 171h3v9h-3zM108 120h3v42h-3zM112 162h3v23h-3zM116 184h3v43h-3zM124 202h3v5h-3zM132 202h3v3h-3zM140 188h3v10h-3zM148 185h3v7h-3zM152 180h3v20h-3zM168 115h3v16h-3zM172 130h3v1h-3zM184 72h3v16h-3zM192 64h3v8h-3zM196 82h3v16h-3zM200 103h3v1h-3zM204 100h3v33h-3zM216 92h3v9h-3zM224 96h3v18h-3zM228 114h3v10h-3zM232 122h3v35h-3zM236 156h3v1h-3zM240 156h3v6h-3zM248 154h3v32h-3zM252 186h3v21h-3zM256 206h3v20h-3zM268 221h3v8h-3zM272 225h3v26h-3zM280 244h3v8h-3zM284 252h3v14h-3zM296 254h3v2h-3zM304 229h3v5h-3zM308 233h3v34h-3zM312 266h3v90h-3zM320 358h3v11h-3zM332 279h3v14h-3zM336 293h3v21h-3zM340 314h3v3h-3zM348 307h3v34h-3zM364 314h3v7h-3zM368 322h3v38h-3zM372 359h3v13h-3zM376 372h3v42h-3zM380 413h3v16h-3zM384 428h3v22h-3zM388 449h3v9h-3zM392 439h3v1h-3zM400 418h3v7h-3zM408 388h3v20h-3zM416 400h3v4h-3zM424 387h3v23h-3zM436 388h3v9h-3zM448 369h3v28h-3zM460 280h3v3h-3zM472 233h3v18h-3zM476 251h3v2h-3zM480 252h3v26h-3zM488 280h3v3h-3zM508 248h3v9h-3zM512 257h3v16h-3zM520 237h3v17h-3zM528 211h3v21h-3zM532 231h3v8h-3zM536 244h3v4h-3zM540 247h3v17h-3zM544 263h3v9h-3zM548 271h3v4h-3zM556 239h3v14h-3zM564 223h3v7h-3zM568 230h3v40h-3zM580 236h3v14h-3zM592 163h3v38h-3zM596 201h3v79h-3zM608 267h3v3h-3zM616 266h3v10h-3zM620 274h3v9h-3zM628 240h3v6h-3zM640 229h3v19h-3zM644 247h3v1h-3zM652 245h3v5h-3zM656 241h3v9h-3zM664 214h3v18h-3zM676 197h3v11h-3zM680 203h3v35h-3zM684 237h3v22h-3zM696 241h3v32h-3zM700 272h3v3h-3zM708 270h3v18h-3zM712 286h3v13h-3zM720 298h3v22h-3zM736 278h3v2h-3zM740 279h3v18h-3zM744 297h3v19h-3zM756 310h3v18h-3zM760 327h3v11h-3zM784 236h3v47h-3zM792 273h3v3h-3zM800 276h3v5h-3zM812 251h3v42h-3zM816 293h3v36h-3zM820 329h3v1h-3zM828 295h3v10h-3zM836 278h3v17h-3zM840 295h3v7h-3zM844 301h3v7h-3zM852 286h3v8h-3zM856 290h3v44h-3zM868 321h3v5h-3zM872 328h3v13h-3zM876 340h3v93h-3zM884 401h3v8h-3zM888 408h3v6h-3zM892 412h3v4h-3zM896 418h3v1h-3zM900 418h3v2h-3zM908 402h3v5h-3zM920 373h3v24h-3zM924 396h3v1h-3z" fill="#24c824"/>
<path class="c" d="M17 330h1v35h-1zM25 318h1v39h-1zM37 333h1v53h-1zM41 296h1v53h-1zM45 257h1v77h-1zM53 270h1v22h-1zM57 249h1v50h-1zM69 274h1v33h-1zM73 191h1v87h-1zM77 224h1v24h-1zM85 235h1v37h-1zM93 240h1v24h-1zM97 169h1v87h-1zM105 117h1v78h-1zM121 180h1v70h-1zM129 176h1v42h-1zM137 187h1v22h-1zM145 165h1v37h-1zM157 176h1v25h-1zM161 153h1v32h-1zM165 113h1v53h-1zM177 82h1v51h-1zM181 68h1v16h-1zM189 58h1v20h-1zM209 110h1v27h-1zM213 96h1v32h-1zM221 86h1v16h-1zM245 151h1v12h-1zM261 218h1v24h-1zM265 206h1v27h-1zM277 231h1v29h-1zM289 254h1v22h-1zM293 253h1v12h-1zM301 221h1v42h-1zM317 342h1v17h-1zM325 328h1v42h-1zM329 278h1v65h-1zM345 298h1v21h-1zM353 316h1v39h-1zM357 310h1v33h-1zM361 314h1v24h-1zM397 413h1v46h-1zM405 386h1v42h-1zM413 400h1v8h-1zM421 384h1v32h-1zM429 396h1v31h-1zM433 386h1v38h-1zM441 351h1v45h-1zM445 367h1v20h-1zM453 280h1v126h-1zM457 268h1v45h-1zM465 242h1v51h-1zM469 230h1v44h-1zM485 272h1v9h-1zM493 256h1v29h-1zM497 262h1v14h-1zM501 250h1v22h-1zM505 222h1v39h-1zM517 233h1v49h-1zM525 205h1v57h-1zM553 237h1v44h-1zM561 213h1v37h-1zM573 245h1v33h-1zM577 229h1v33h-1zM585 215h1v35h-1zM589 158h1v82h-1zM601 254h1v40h-1zM605 263h1v15h-1zM613 261h1v17h-1zM625 234h1v51h-1zM633 227h1v27h-1zM637 224h1v20h-1zM649 232h1v17h-1zM661 214h1v42h-1zM669 198h1v45h-1zM673 187h1v26h-1zM689 242h1v23h-1zM693 233h1v32h-1zM705 262h1v13h-1zM717 279h1v23h-1zM725 316h1v11h-1zM729 286h1v32h-1zM733 269h1v33h-1zM749 309h1v11h-1zM753 289h1v25h-1zM765 288h1v55h-1zM769 259h1v48h-1zM773 256h1v10h-1zM777 227h1v32h-1zM781 227h1v29h-1zM789 250h1v43h-1zM797 267h1v13h-1zM805 268h1v22h-1zM809 245h1v30h-1zM825 280h1v35h-1zM833 259h1v50h-1zM849 285h1v39h-1zM861 314h1v29h-1zM865 317h1v30h-1zM881 397h1v47h-1zM905 393h1v39h-1zM913 373h1v47h-1zM917 368h1v8h-1zM16 336h3v13h-3zM24 346h3v8h-3zM36 345h3v33h-3zM40 304h3v42h-3zM44 259h3v45h-3zM52 273h3v12h-3zM56 252h3v44h-3zM68 274h3v14h-3zM72 245h3v31h-3zM76 230h3v16h-3zM84 247h3v18h-3zM92 251h3v8h-3zM96 171h3v81h-3zM104 119h3v71h-3zM120 202h3v24h-3zM128 203h3v5h-3zM136 189h3v16h-3zM144 185h3v13h-3zM156 181h3v19h-3zM160 160h3v21h-3zM164 115h3v47h-3zM176 86h3v41h-3zM180 72h3v8h-3zM188 62h3v12h-3zM208 121h3v11h-3zM212 100h3v21h-3zM220 90h3v10h-3zM244 156h3v6h-3zM260 222h3v4h-3zM264 222h3v1h-3zM276 244h3v7h-3zM288 261h3v5h-3zM292 254h3v8h-3zM300 229h3v27h-3zM316 353h3v3h-3zM324 335h3v35h-3zM328 280h3v56h-3zM344 307h3v7h-3zM352 333h3v9h-3zM356 326h3v7h-3zM360 314h3v12h-3zM396 418h3v22h-3zM404 388h3v37h-3zM412 404h3v3h-3zM420 387h3v17h-3zM428 406h3v4h-3zM432 388h3v18h-3zM440 373h3v21h-3zM444 369h3v3h-3zM452 282h3v115h-3zM456 280h3v3h-3zM464 254h3v34h-3zM468 233h3v22h-3zM484 275h3v2h-3zM492 267h3v15h-3zM496 267h3v1h-3zM500 254h3v14h-3zM504 248h3v7h-3zM516 238h3v35h-3zM524 211h3v43h-3zM552 238h3v37h-3zM560 223h3v25h-3zM572 248h3v22h-3zM576 236h3v13h-3zM584 238h3v11h-3zM588 162h3v77h-3zM600 271h3v9h-3zM604 267h3v4h-3zM612 266h3v4h-3zM624 240h3v43h-3zM632 233h3v6h-3zM636 229h3v5h-3zM648 245h3v3h-3zM660 214h3v36h-3zM668 210h3v22h-3zM672 197h3v14h-3zM688 258h3v1h-3zM692 241h3v18h-3zM704 270h3v3h-3zM716 298h3v1h-3zM724 318h3v1h-3zM728 294h3v24h-3zM732 278h3v16h-3zM748 311h3v5h-3zM752 310h3v4h-3zM764 292h3v46h-3zM768 263h3v30h-3zM772 260h3v4h-3zM776 237h3v17h-3zM780 236h3v2h-3zM788 272h3v11h-3zM796 270h3v6h-3zM804 271h3v9h-3zM808 251h3v20h-3zM824 295h3v16h-3zM832 278h3v27h-3zM848 286h3v18h-3zM860 323h3v11h-3zM864 321h3v3h-3zM880 401h3v32h-3zM904 402h3v18h-3zM912 374h3v33h-3zM916 372h3v4h-3z" fill="#ff0000"/>
<path class="c" d="M17 337h1v11h-1zM25 347h1v6h-1zM37 346h1v31h-1zM41 305h1v40h-1zM45 260h1v43h-1zM53 274h1v10h-1zM57 253h1v42h-1zM69 275h1v12h-1zM73 246h1v29h-1zM77 231h1v14h-1zM85 248h1v16h-1zM93 252h1v6h-1zM97 172h1v79h-1zM105 120h1v69h-1zM121 203h1v22h-1zM129 204h1v3h-1zM137 190h1v14h-1zM145 186h1v11h-1zM157 182h1v17h-1zM161 161h1v19h-1zM165 116h1v45h-1zM177 87h1v39h-1zM181 73h1v6h-1zM189 63h1v10h-1zM209 122h1v9h-1zM213 101h1v19h-1zM221 91h1v8h-1zM245 157h1v4h-1zM261 223h1v2h-1zM277 245h1v5h-1zM289 262h1v3h-1zM293 255h1v6h-1zM301 230h1v25h-1zM317 354h1v1h-1zM325 336h1v33h-1zM329 281h1v54h-1zM345 308h1v5h-1zM353 334h1v7h-1zM357 327h1v5h-1zM361 315h1v10h-1zM397 419h1v20h-1zM405 389h1v35h-1zM413 405h1v1h-1zM421 388h1v15h-1zM429 407h1v2h-1zM433 389h1v16h-1zM441 374h1v19h-1zM445 370h1v1h-1zM453 283h1v113h-1zM457 281h1v1h-1zM465 255h1v32h-1zM469 234h1v20h-1zM493 268h1v13h-1zM501 255h1v12h-1zM505 249h1v5h-1zM517 239h1v33h-1zM525 212h1v41h-1zM553 239h1v35h-1zM561 224h1v23h-1zM573 249h1v20h-1zM577 237h1v11h-1zM585 239h1v9h-1zM589 163h1v75h-1zM601 272h1v7h-1zM605 268h1v2h-1zM613 267h1v2h-1zM625 241h1v41h-1zM633 234h1v4h-1zM637 230h1v3h-1zM649 246h1v1h-1zM661 215h1v34h-1zM669 211h1v20h-1zM673 198h1v12h-1zM693 242h1v16h-1zM705 271h1v1h-1zM729 295h1v22h-1zM733 279h1v14h-1zM749 312h1v3h-1zM753 311h1v2h-1zM765 293h1v44h-1zM769 264h1v28h-1zM773 261h1v2h-1zM777 238h1v15h-1zM789 273h1v9h-1zM797 271h1v4h-1zM805 272h1v7h-1zM809 252h1v18h-1zM825 296h1v14h-1zM833 279h1v25h-1zM849 287h1v16h-1zM861 324h1v9h-1zM865 322h1v1h-1zM881 402h1v30h-1zM905 403h1v16h-1zM913 375h1v31h-1zM917 373h1v2h-1z" fill="#ff4500"/>
<path class="c" d="M5 274h1v5h-1zM9 281h1v31h-1zM13 313h1v35h-1zM21 337h1v16h-1zM33 347h1v30h-1zM49 260h1v24h-1zM61 253h1v19h-1zM65 274h1v13h-1zM81 256h1v9h-1zM89 247h1v11h-1zM101 172h1v7h-1zM109 121h1v40h-1zM113 163h1v21h-1zM117 185h1v41h-1zM125 203h1v3h-1zM133 203h1v1h-1zM141 189h1v8h-1zM149 186h1v5h-1zM153 181h1v18h-1zM169 116h1v14h-1zM185 73h1v14h-1zM193 65h1v6h-1zM197 83h1v14h-1zM205 101h1v31h-1zM217 93h1v7h-1zM225 97h1v16h-1zM229 115h1v8h-1zM233 123h1v33h-1zM241 157h1v4h-1zM249 155h1v30h-1zM253 187h1v19h-1zM257 207h1v18h-1zM269 222h1v6h-1zM273 226h1v24h-1zM281 245h1v6h-1zM285 253h1v12h-1zM305 230h1v3h-1zM309 234h1v32h-1zM313 267h1v88h-1zM321 359h1v9h-1zM333 280h1v12h-1zM337 294h1v19h-1zM341 315h1v1h-1zM349 308h1v32h-1zM365 315h1v5h-1zM369 323h1v36h-1zM373 360h1v11h-1zM377 373h1v40h-1zM381 414h1v14h-1zM385 429h1v20h-1zM389 450h1v7h-1zM401 419h1v5h-1zM409 389h1v18h-1zM417 401h1v2h-1zM425 388h1v21h-1zM437 389h1v7h-1zM449 370h1v26h-1zM461 281h1v1h-1zM473 234h1v16h-1zM481 253h1v24h-1zM489 281h1v1h-1zM509 249h1v7h-1zM513 258h1v14h-1zM521 238h1v15h-1zM529 212h1v19h-1zM533 232h1v6h-1zM537 245h1v2h-1zM541 248h1v15h-1zM545 264h1v7h-1zM549 272h1v2h-1zM557 240h1v12h-1zM565 224h1v5h-1zM569 231h1v38h-1zM581 237h1v12h-1zM593 164h1v36h-1zM597 202h1v77h-1zM609 268h1v1h-1zM617 267h1v8h-1zM621 275h1v7h-1zM629 241h1v4h-1zM641 230h1v17h-1zM653 246h1v3h-1zM657 242h1v7h-1zM665 215h1v16h-1zM677 198h1v9h-1zM681 204h1v33h-1zM685 238h1v20h-1zM697 242h1v30h-1zM701 273h1v1h-1zM709 271h1v16h-1zM713 287h1v11h-1zM721 299h1v20h-1zM741 280h1v16h-1zM745 298h1v17h-1zM757 311h1v16h-1zM761 328h1v9h-1zM785 237h1v45h-1zM793 274h1v1h-1zM801 277h1v3h-1zM813 252h1v40h-1zM817 294h1v34h-1zM829 296h1v8h-1zM837 279h1v15h-1zM841 296h1v5h-1zM845 302h1v5h-1zM853 287h1v6h-1zM857 291h1v42h-1zM869 322h1v3h-1zM873 329h1v11h-1zM877 341h1v91h-1zM885 402h1v6h-1zM889 409h1v4h-1zM893 413h1v2h-1zM909 403h1v3h-1zM921 374h1v22h-1z" fill="#32cd32"/>
</g>
<g clip-path="url(#cmacd)">
<path class="c" d="M4 525h3v12h-3zM8 525h3v14h-3zM12 525h3v18h-3zM16 525h3v21h-3zM20 525h3v23h-3zM24 525h3v25h-3zM28 525h3v25h-3zM32 525h3v28h-3zM36 525h3v27h-3zM40 525h3v24h-3zM44 525h3v18h-3zM48 525h3v14h-3zM52 525h3v11h-3zM56 525h3v7h-3zM60 525h3v5h-3zM64 525h3v4h-3zM68 525h3v3h-3zM72 524h3v1h-3zM76 521h3v4h-3zM80 521h3v4h-3zM84 520h3v5h-3zM88 519h3v6h-3zM92 519h3v6h-3zM96 513h3v12h-3zM100 509h3v16h-3zM104 502h3v23h-3zM108 500h3v25h-3zM112 500h3v25h-3zM116 503h3v22h-3zM120 504h3v21h-3zM124 506h3v19h-3zM128 507h3v18h-3zM132 508h3v17h-3zM136 508h3v17h-3zM140 509h3v16h-3zM144 509h3v16h-3zM148 510h3v15h-3zM152 511h3v14h-3zM156 510h3v15h-3zM160 509h3v16h-3zM164 505h3v20h-3zM168 504h3v21h-3zM172 502h3v23h-3zM176 499h3v26h-3zM180 495h3v30h-3zM184 494h3v31h-3zM188 492h3v33h-3zM192 491h3v34h-3zM196 492h3v33h-3zM200 494h3v31h-3zM204 498h3v27h-3zM208 500h3v25h-3zM212 501h3v24h-3zM216 502h3v23h-3zM220 503h3v22h-3zM224 505h3v20h-3zM228 507h3v18h-3zM232 512h3v13h-3zM236 515h3v10h-3zM240 518h3v7h-3zM244 521h3v4h-3zM248 524h3v1h-3zM252 525h3v4h-3zM256 525h3v8h-3zM260 525h3v11h-3zM264 525h3v14h-3zM268 525h3v16h-3zM272 525h3v19h-3zM276 525h3v21h-3zM280 525h3v22h-3zM284 525h3v24h-3zM288 525h3v25h-3zM292 525h3v25h-3zM296 525h3v25h-3zM300 525h3v23h-3zM304 525h3v21h-3zM308 525h3v22h-3zM312 525h3v28h-3zM316 525h3v32h-3zM320 525h3v36h-3zM324 525h3v37h-3zM328 525h3v33h-3zM332 525h3v31h-3zM336 525h3v30h-3zM340 525h3v29h-3zM344 525h3v27h-3zM348 525h3v28h-3zM352 525h3v28h-3zM356 525h3v27h-3zM360 525h3v25h-3zM364 525h3v23h-3zM368 525h3v25h-3zM372 525h3v26h-3zM376 525h3v30h-3zM380 525h3v33h-3zM384 525h3v37h-3zM388 525h3v40h-3zM392 525h3v41h-3zM396 525h3v39h-3zM400 525h3v39h-3zM404 525h3v35h-3zM408 525h3v33h-3zM412 525h3v31h-3zM416 525h3v29h-3zM420 525h3v25h-3zM424 525h3v24h-3zM428 525h3v23h-3zM432 525h3v20h-3zM436 525h3v19h-3zM440 525h3v15h-3zM444 525h3v13h-3zM448 525h3v12h-3zM452 525h3v4h-3zM456 522h3v3h-3zM460 518h3v7h-3zM464 512h3v13h-3zM468 506h3v19h-3zM472 503h3v22h-3zM476 501h3v24h-3zM480 502h3v23h-3zM484 502h3v23h-3zM488 503h3v22h-3zM492 503h3v22h-3zM496 503h3v22h-3zM500 503h3v22h-3zM504 502h3v23h-3zM508 503h3v22h-3zM512 504h3v21h-3zM516 504h3v21h-3zM520 504h3v21h-3zM524 502h3v23h-3zM528 502h3v23h-3zM532 503h3v22h-3zM536 505h3v20h-3zM540 507h3v18h-3zM544 510h3v15h-3zM548 512h3v13h-3zM552 512h3v13h-3zM556 513h3v12h-3zM560 511h3v14h-3zM564 511h3v14h-3zM568 514h3v11h-3zM572 514h3v11h-3zM576 514h3v11h-3zM580 515h3v10h-3zM584 515h3v10h-3zM588 510h3v15h-3zM592 509h3v16h-3zM596 514h3v11h-3zM600 517h3v8h-3zM604 519h3v6h-3zM608 521h3v4h-3zM612 523h3v2h-3zM616 524h3v1h-3zM620 525h3v1h-3zM624 524h3v1h-3zM628 524h3v1h-3zM632 523h3v2h-3zM636 521h3v4h-3zM640 522h3v3h-3zM644 522h3v3h-3zM648 522h3v3h-3zM652 522h3v3h-3zM656 523h3v2h-3zM660 520h3v5h-3zM664 520h3v5h-3zM668 518h3v7h-3zM672 516h3v9h-3zM676 515h3v10h-3zM680 517h3v8h-3zM684 519h3v6h-3zM688 522h3v3h-3zM692 522h3v3h-3zM696 524h3v1h-3zM700 525h3v2h-3zM704 525h3v3h-3zM708 525h3v5h-3zM712 525h3v7h-3zM716 525h3v9h-3zM720 525h3v12h-3zM724 525h3v14h-3zM728 525h3v13h-3zM732 525h3v12h-3zM736 525h3v11h-3zM740 525h3v11h-3zM744 525h3v12h-3zM748 525h3v13h-3zM752 525h3v13h-3zM756 525h3v14h-3zM760 525h3v15h-3zM764 525h3v13h-3zM768 525h3v10h-3zM772 525h3v6h-3zM776 525h3v2h-3zM780 524h3v1h-3zM784 524h3v1h-3zM788 524h3v1h-3zM792 524h3v1h-3zM796 524h3v1h-3zM800 524h3v1h-3zM804 524h3v1h-3zM808 522h3v3h-3zM812 524h3v1h-3zM816 525h3v3h-3zM820 525h3v6h-3zM824 525h3v5h-3zM828 525h3v6h-3zM832 525h3v5h-3zM836 525h3v5h-3zM840 525h3v5h-3zM844 525h3v5h-3zM848 525h3v4h-3zM852 525h3v4h-3zM856 525h3v6h-3zM860 525h3v7h-3zM864 525h3v8h-3zM868 525h3v9h-3zM872 525h3v10h-3zM876 525h3v17h-3zM880 525h3v20h-3zM884 525h3v23h-3zM888 525h3v25h-3zM892 525h3v27h-3zM896 525h3v28h-3zM900 525h3v29h-3zM904 525h3v28h-3zM908 525h3v27h-3zM912 525h3v24h-3zM916 525h3v21h-3zM920 525h3v21h-3zM924 525h3v20h-3z" fill="#c0c0c0"/>
<path class="c" d="M5 538h4v1h-4zM9 538h2v1h-2zM11 539h2v1h-2zM13 539h4v1h-4zM17 539h1v1h-1zM18 540h2v1h-2zM20 541h1v1h-1zM21 541h2v1h-2zM23 542h2v1h-2zM25 542h2v1h-2zM27 543h2v1h-2zM29 543h1v1h-1zM30 544h2v1h-2zM32 545h1v1h-1zM33 545h1v1h-1zM34 546h2v1h-2zM36 547h1v1h-1zM37 547h2v1h-2zM39 548h2v1h-2zM41 548h4v1h-4zM45 548h4v1h-4zM49 548h2v1h-2zM51 547h2v1h-2zM53 547h1v1h-1zM54 546h2v1h-2zM56 545h1v1h-1zM57 545h1v1h-1zM58 544h2v1h-2zM60 543h1v1h-1zM61 543h1v1h-1zM62 542h1v1h-1zM63 541h2v1h-2zM65 540h1v1h-1zM66 539h2v1h-2zM68 538h1v1h-1zM69 538h1v1h-1zM70 537h1v1h-1zM71 536h2v1h-2zM73 535h1v1h-1zM74 534h1v1h-1zM75 533h2v1h-2zM77 532h1v1h-1zM78 531h1v1h-1zM79 530h2v1h-2zM81 529h1v1h-1zM82 528h2v1h-2zM84 527h1v1h-1zM85 527h1v1h-1zM86 526h2v1h-2zM88 525h1v1h-1zM89 525h2v1h-2zM91 524h2v1h-2zM93 524h1v1h-1zM94 523h2v1h-2zM96 522h1v1h-1zM97 522h1v1h-1zM98 521h2v1h-2zM100 520h1v1h-1zM101 520h1v1h-1zM102 519h1v1h-1zM103 518h2v1h-2zM105 517h1v1h-1zM106 516h1v1h-1zM107 515h2v1h-2zM109 514h1v1h-1zM110 513h2v1h-2zM112 512h1v1h-1zM113 512h1v1h-1zM114 511h2v1h-2zM116 510h1v1h-1zM117 510h1v1h-1zM118 509h2v1h-2zM120 508h1v1h-1zM121 508h2v1h-2zM123 507h2v1h-2zM125 507h1v1h-1zM126 506h2v1h-2zM128 505h1v1h-1zM129 505h4v1h-4zM133 505h4v1h-4zM137 505h4v1h-4zM141 505h2v1h-2zM143 506h2v1h-2zM145 506h2v1h-2zM147 507h2v1h-2zM149 507h2v1h-2zM151 508h2v1h-2zM153 508h2v1h-2zM155 509h2v1h-2zM157 509h4v1h-4zM161 509h4v1h-4zM165 509h2v1h-2zM167 508h2v1h-2zM169 508h4v1h-4zM173 508h2v1h-2zM175 507h2v1h-2zM177 507h1v1h-1zM178 506h2v1h-2zM180 505h1v1h-1zM181 505h1v1h-1zM182 504h2v1h-2zM184 503h1v1h-1zM185 503h1v1h-1zM186 502h2v1h-2zM188 501h1v1h-1zM189 501h1v1h-1zM190 500h2v1h-2zM192 499h1v1h-1zM193 499h1v1h-1zM194 498h2v1h-2zM196 497h1v1h-1zM197 497h2v1h-2zM199 496h2v1h-2zM201 496h2v1h-2zM203 495h2v1h-2zM205 495h4v1h-4zM209 495h2v1h-2zM211 496h2v1h-2zM213 496h4v1h-4zM217 496h2v1h-2zM219 497h2v1h-2zM221 497h1v1h-1zM222 498h2v1h-2zM224 499h1v1h-1zM225 499h1v1h-1zM226 500h2v1h-2zM228 501h1v1h-1zM229 501h1v1h-1zM230 502h2v1h-2zM232 503h1v1h-1zM233 503h1v1h-1zM234 504h2v1h-2zM236 505h1v1h-1zM237 505h1v1h-1zM238 506h2v1h-2zM240 507h1v1h-1zM241 507h1v1h-1zM242 508h2v1h-2zM244 509h1v1h-1zM245 509h1v1h-1zM246 510h1v1h-1zM247 511h2v1h-2zM249 512h1v1h-1zM250 513h1v1h-1zM251 514h2v1h-2zM253 515h1v1h-1zM254 516h1v1h-1zM255 517h2v1h-2zM257 518h1v1h-1zM258 519h1v1h-1zM259 520h1v1h-1zM260 521h1v1h-1zM261 522h1v1h-1zM262 523h1v1h-1zM263 524h2v1h-2zM265 525h1v1h-1zM266 526h1v1h-1zM267 527h1v1h-1zM268 528h1v1h-1zM269 529h1v1h-1zM270 530h1v1h-1zM271 531h2v1h-2zM273 532h1v1h-1zM274 533h1v1h-1zM275 534h2v1h-2zM277 535h1v1h-1zM278 536h1v1h-1zM279 537h2v1h-2zM281 538h1v1h-1zM282 539h1v1h-1zM283 540h2v1h-2zM285 541h1v1h-1zM286 542h2v1h-2zM288 543h1v1h-1zM289 543h1v1h-1zM290 544h2v1h-2zM292 545h1v1h-1zM293 545h2v1h-2zM295 546h2v1h-2zM297 546h2v1h-2zM299 547h2v1h-2zM301 547h2v1h-2zM303 548h2v1h-2zM305 548h4v1h-4zM309 548h2v1h-2zM311 549h2v1h-2zM313 549h2v1h-2zM315 550h2v1h-2zM317 550h2v1h-2zM319 551h2v1h-2zM321 551h1v1h-1zM322 552h2v1h-2zM324 553h1v1h-1zM325 553h4v1h-4zM329 553h2v1h-2zM331 554h2v1h-2zM333 554h2v1h-2zM335 555h2v1h-2zM337 555h2v1h-2zM339 556h2v1h-2zM341 556h4v1h-4zM345 556h4v1h-4zM349 556h4v1h-4zM353 556h2v1h-2zM355 555h2v1h-2zM357 555h2v1h-2zM359 554h2v1h-2zM361 554h2v1h-2zM363 553h2v1h-2zM365 553h2v1h-2zM367 552h2v1h-2zM369 552h4v1h-4zM373 552h4v1h-4zM377 552h4v1h-4zM381 552h2v1h-2zM383 553h2v1h-2zM385 553h1v1h-1zM386 554h2v1h-2zM388 555h1v1h-1zM389 555h2v1h-2zM391 556h2v1h-2zM393 556h1v1h-1zM394 557h2v1h-2zM396 558h1v1h-1zM397 558h1v1h-1zM398 559h2v1h-2zM400 560h1v1h-1zM401 560h2v1h-2zM403 561h2v1h-2zM405 561h4v1h-4zM409 561h4v1h-4zM413 561h4v1h-4zM417 561h2v1h-2zM419 560h2v1h-2zM421 560h1v1h-1zM422 559h2v1h-2zM424 558h1v1h-1zM425 558h1v1h-1zM426 557h2v1h-2zM428 556h1v1h-1zM429 556h1v1h-1zM430 555h2v1h-2zM432 554h1v1h-1zM433 554h1v1h-1zM434 553h2v1h-2zM436 552h1v1h-1zM437 552h1v1h-1zM438 551h1v1h-1zM439 550h2v1h-2zM441 549h1v1h-1zM442 548h2v1h-2zM444 547h1v1h-1zM445 547h1v1h-1zM446 546h2v1h-2zM448 545h1v1h-1zM449 545h1v1h-1zM450 544h1v1h-1zM451 543h2v1h-2zM453 542h1v1h-1zM454 541h1v1h-1zM455 540h2v1h-2zM457 539h1v1h-1zM458 538h1v1h-1zM459 537h2v1h-2zM461 536h1v1h-1zM462 535h1v1h-1zM463 534h1v1h-1zM464 533h1v1h-1zM465 532h1v1h-1zM466 531h1v1h-1zM467 529h1v2h-1zM468 528h1v1h-1zM469 527h1v1h-1zM470 526h1v1h-1zM471 525h1v1h-1zM472 524h1v1h-1zM473 523h1v1h-1zM474 522h1v1h-1zM475 521h1v1h-1zM476 520h1v1h-1zM477 519h1v1h-1zM478 518h1v1h-1zM479 517h1v1h-1zM480 516h1v1h-1zM481 515h1v1h-1zM482 514h1v1h-1zM483 513h1v1h-1zM484 512h1v1h-1zM485 511h1v1h-1zM486 510h1v1h-1zM487 509h2v1h-2zM489 508h1v1h-1zM490 507h2v1h-2zM492 506h1v1h-1zM493 506h1v1h-1zM494 505h2v1h-2zM496 504h1v1h-1zM497 504h2v1h-2zM499 503h2v1h-2zM501 503h4v1h-4zM505 503h2v1h-2zM507 502h2v1h-2zM509 502h2v1h-2zM511 503h2v1h-2zM513 503h4v1h-4zM517 503h4v1h-4zM521 503h4v1h-4zM525 503h4v1h-4zM529 503h4v1h-4zM533 503h2v1h-2zM535 504h2v1h-2zM537 504h4v1h-4zM541 504h2v1h-2zM543 505h2v1h-2zM545 505h2v1h-2zM547 506h2v1h-2zM549 506h2v1h-2zM551 507h2v1h-2zM553 507h4v1h-4zM557 507h2v1h-2zM559 508h2v1h-2zM561 508h2v1h-2zM563 509h2v1h-2zM565 509h1v1h-1zM566 510h2v1h-2zM568 511h1v1h-1zM569 511h2v1h-2zM571 512h2v1h-2zM573 512h4v1h-4zM577 512h2v1h-2zM579 513h2v1h-2zM581 513h4v1h-4zM585 513h4v1h-4zM589 513h4v1h-4zM593 513h4v1h-4zM597 513h2v1h-2zM599 514h2v1h-2zM601 514h4v1h-4zM605 514h2v1h-2zM607 515h2v1h-2zM609 515h2v1h-2zM611 516h2v1h-2zM613 516h2v1h-2zM615 517h2v1h-2zM617 517h2v1h-2zM619 518h2v1h-2zM621 518h1v1h-1zM622 519h2v1h-2zM624 520h1v1h-1zM625 520h1v1h-1zM626 521h2v1h-2zM628 522h1v1h-1zM629 522h2v1h-2zM631 523h2v1h-2zM633 523h4v1h-4zM637 523h4v1h-4zM641 523h4v1h-4zM645 523h4v1h-4zM649 523h4v1h-4zM653 523h4v1h-4zM657 523h2v1h-2zM659 522h2v1h-2zM661 522h4v1h-4zM665 522h2v1h-2zM667 521h2v1h-2zM669 521h4v1h-4zM673 521h2v1h-2zM675 520h2v1h-2zM677 520h2v1h-2zM679 519h2v1h-2zM681 519h4v1h-4zM685 519h4v1h-4zM689 519h4v1h-4zM693 519h2v1h-2zM695 520h2v1h-2zM697 520h4v1h-4zM701 520h2v1h-2zM703 521h2v1h-2zM705 521h1v1h-1zM706 522h2v1h-2zM708 523h1v1h-1zM709 523h1v1h-1zM710 524h2v1h-2zM712 525h1v1h-1zM713 525h1v1h-1zM714 526h2v1h-2zM716 527h1v1h-1zM717 527h1v1h-1zM718 528h2v1h-2zM720 529h1v1h-1zM721 529h1v1h-1zM722 530h2v1h-2zM724 531h1v1h-1zM725 531h2v1h-2zM727 532h2v1h-2zM729 532h1v1h-1zM730 533h2v1h-2zM732 534h1v1h-1zM733 534h2v1h-2zM735 535h2v1h-2zM737 535h2v1h-2zM739 536h2v1h-2zM741 536h4v1h-4zM745 536h2v1h-2zM747 537h2v1h-2zM749 537h4v1h-4zM753 537h2v1h-2zM755 538h2v1h-2zM757 538h4v1h-4zM761 538h4v1h-4zM765 538h4v1h-4zM769 538h2v1h-2zM771 537h2v1h-2zM773 537h2v1h-2zM775 536h2v1h-2zM777 536h2v1h-2zM779 535h2v1h-2zM781 535h1v1h-1zM782 534h2v1h-2zM784 533h1v1h-1zM785 533h2v1h-2zM787 532h2v1h-2zM789 532h1v1h-1zM790 531h2v1h-2zM792 530h1v1h-1zM793 530h1v1h-1zM794 529h2v1h-2zM796 528h1v1h-1zM797 528h2v1h-2zM799 527h2v1h-2zM801 527h1v1h-1zM802 526h2v1h-2zM804 525h1v1h-1zM805 525h2v1h-2zM807 524h2v1h-2zM809 524h4v1h-4zM813 524h4v1h-4zM817 524h2v1h-2zM819 525h2v1h-2zM821 525h2v1h-2zM823 526h2v1h-2zM825 526h2v1h-2zM827 527h2v1h-2zM829 527h4v1h-4zM833 527h2v1h-2zM835 528h2v1h-2zM837 528h4v1h-4zM841 528h2v1h-2zM843 529h2v1h-2zM845 529h2v1h-2zM847 530h2v1h-2zM849 530h4v1h-4zM853 530h4v1h-4zM857 530h4v1h-4zM861 530h2v1h-2zM863 531h2v1h-2zM865 531h4v1h-4zM869 531h2v1h-2zM871 532h2v1h-2zM873 532h2v1h-2zM875 533h2v1h-2zM877 533h1v1h-1zM878 534h2v1h-2zM880 535h1v1h-1zM881 535h1v1h-1zM882 536h2v1h-2zM884 537h1v1h-1zM885 537h1v1h-1zM886 538h2v1h-2zM888 539h1v1h-1zM889 539h1v1h-1zM890 540h1v1h-1zM891 541h2v1h-2zM893 542h1v1h-1zM894 543h2v1h-2zM896 544h1v1h-1zM897 544h1v1h-1zM898 545h2v1h-2zM900 546h1v1h-1zM901 546h1v1h-1zM902 547h2v1h-2zM904 548h1v1h-1zM905 548h1v1h-1zM906 549h2v1h-2zM908 550h1v1h-1zM909 550h2v1h-2zM911 551h2v1h-2zM913 551h4v1h-4zM917 551h4v1h-4zM921 551h2v1h-2zM923 550h2v1h-2z" fill="#ff0000"/>
</g>
<g clip-path="url(#crsi)">
<path class="c" d="M6 599h3v1h-3zM12 599h3v1h-3zM18 599h3v1h-3zM24 599h3v1h-3zM30 599h3v1h-3zM36 599h3v1h-3zM42 599h3v1h-3zM48 599h3v1h-3zM54 599h3v1h-3zM60 599h3v1h-3zM66 599h3v1h-3zM72 599h3v1h-3zM78 599h3v1h-3zM84 599h3v1h-3zM90 599h3v1h-3zM96 599h3v1h-3zM102 599h3v1h-3zM108 599h3v1h-3zM114 599h3v1h-3zM120 599h3v1h-3zM126 599h3v1h-3zM132 599h3v1h-3zM138 599h3v1h-3zM144 599h3v1h-3zM150 599h3v1h-3zM156 599h3v1h-3zM162 599h3v1h-3zM168 599h3v1h-3zM174 599h3v1h-3zM180 599h3v1h-3zM186 599h3v1h-3zM192 599h3v1h-3zM198 599h3v1h-3zM204 599h3v1h-3zM210 599h3v1h-3zM216 599h3v1h-3zM222 599h3v1h-3zM228 599h3v1h-3zM234 599h3v1h-3zM240 599h3v1h-3zM246 599h3v1h-3zM252 599h3v1h-3zM258 599h3v1h-3zM264 599h3v1h-3zM270 599h3v1h-3zM276 599h3v1h-3zM282 599h3v1h-3zM288 599h3v1h-3zM294 599h3v1h-3zM300 599h3v1h-3zM306 599h3v1h-3zM312 599h3v1h-3zM318 599h3v1h-3zM324 599h3v1h-3zM330 599h3v1h-3zM336 599h3v1h-3zM342 599h3v1h-3zM348 599h3v1h-3zM354 599h3v1h-3zM360 599h3v1h-3zM366 599h3v1h-3zM372 599h3v1h-3zM378 599h3v1h-3zM384 599h3v1h-3zM390 599h3v1h-3zM396 599h3v1h-3zM402 599h3v1h-3zM408 599h3v1h-3zM414 599h3v1h-3zM420 599h3v1h-3zM426 599h3v1h-3zM432 599h3v1h-3zM438 599h3v1h-3zM444 599h3v1h-3zM450 599h3v1h-3zM456 599h3v1h-3zM462 599h3v1h-3zM468 599h3v1h-3zM474 599h3v1h-3zM480 599h3v1h-3zM486 599h3v1h-3zM492 599h3v1h-3zM498 599h3v1h-3zM504 599h3v1h-3zM510 599h3v1h-3zM516 599h3v1h-3zM522 599h3v1h-3zM528 599h3v1h-3zM534 599h3v1h-3zM540 599h3v1h-3zM546 599h3v1h-3zM552 599h3v1h-3zM558 599h3v1h-3zM564 599h3v1h-3zM570 599h3v1h-3zM576 599h3v1h-3zM582 599h3v1h-3zM588 599h3v1h-3zM594 599h3v1h-3zM600 599h3v1h-3zM606 599h3v1h-3zM612 599h3v1h-3zM618 599h3v1h-3zM624 599h3v1h-3zM630 599h3v1h-3zM636 599h3v1h-3zM642 599h3v1h-3zM648 599h3v1h-3zM654 599h3v1h-3zM660 599h3v1h-3zM666 599h3v1h-3zM672 599h3v1h-3zM678 599h3v1h-3zM684 599h3v1h-3zM690 599h3v1h-3zM696 599h3v1h-3zM702 599h3v1h-3zM708 599h3v1h-3zM714 599h3v1h-3zM720 599h3v1h-3zM726 599h3v1h-3zM732 599h3v1h-3zM738 599h3v1h-3zM744 599h3v1h-3zM750 599h3v1h-3zM756 599h3v1h-3zM762 599h3v1h-3zM768 599h3v1h-3zM774 599h3v1h-3zM780 599h3v1h-3zM786 599h3v1h-3zM792 599h3v1h-3zM798 599h3v1h-3zM804 599h3v1h-3zM810 599h3v1h-3zM816 599h3v1h-3zM822 599h3v1h-3zM828 599h3v1h-3zM834 599h3v1h-3zM840 599h3v1h-3zM846 599h3v1h-3zM852 599h3v1h-3zM858 599h3v1h-3zM864 599h3v1h-3zM870 599h3v1h-3zM876 599h3v1h-3zM882 599h3v1h-3zM888 599h3v1h-3zM894 599h3v1h-3zM900 599h3v1h-3zM906 599h3v1h-3zM912 599h3v1h-3zM918 599h3v1h-3zM924 599h3v1h-3zM930 599h3v1h-3zM936 599h3v1h-3zM942 599h3v1h-3zM948 599h3v1h-3zM954 599h3v1h-3zM960 599h3v1h-3zM966 599h3v1h-3zM972 599h3v1h-3zM978 599h3v1h-3zM984 599h3v1h-3zM990 599h3v1h-3zM996 599h3v1h-3zM1002 599h3v1h-3zM1008 599h3v1h-3zM1014 599h3v1h-3zM1020 599h3v1h-3zM1026 599h3v1h-3zM1032 599h3v1h-3zM1038 599h3v1h-3zM1044 599h3v1h-3zM1050 599h3v1h-3zM1056 599h3v1h-3zM1062 599h3v1h-3zM1068 599h3v1h-3zM1074 599h3v1h-3zM1080 599h3v1h-3zM1086 599h3v1h-3zM1092 599h3v1h-3zM1098 599h3v1h-3zM1104 599h3v1h-3zM1110 599h3v1h-3zM1116 599h3v1h-3zM1122 599h3v1h-3zM1128 599h3v1h-3zM1134 599h3v1h-3zM1140 599h3v1h-3zM1146 599h3v1h-3zM1152 599h3v1h-3zM1158 599h3v1h-3zM1164 599h3v1h-3z" fill="#c0c0c0"/>
<path class="c" d="M6 634h3v1h-3zM12 634h3v1h-3zM18 634h3v1h-3zM24 634h3v1h-3zM30 634h3v1h-3zM36 634h3v1h-3zM42 634h3v1h-3zM48 634h3v1h-3zM54 634h3v1h-3zM60 634h3v1h-3zM66 634h3v1h-3zM72 634h3v1h-3zM78 634h3v1h-3zM84 634h3v1h-3zM90 634h3v1h-3zM96 634h3v1h-3zM102 634h3v1h-3zM108 634h3v1h-3zM114 634h3v1h-3zM120 634h3v1h-3zM126 634h3v1h-3zM132 634h3v1h-3zM138 634h3v1h-3zM144 634h3v1h-3zM150 634h3v1h-3zM156 634h3v1h-3zM162 634h3v1h-3zM168 634h3v1h-3zM174 634h3v1h-3zM180 634h3v1h-3zM186 634h3v1h-3zM192 634h3v1h-3zM198 634h3v1h-3zM204 634h3v1h-3zM210 634h3v1h-3zM216 634h3v1h-3zM222 634h3v1h-3zM228 634h3v1h-3zM234 634h3v1h-3zM240 634h3v1h-3zM246 634h3v1h-3zM252 634h3v1h-3zM258 634h3v1h-3zM264 634h3v1h-3zM270 634h3v1h-3zM276 634h3v1h-3zM282 634h3v1h-3zM288 634h3v1h-3zM294 634h3v1h-3zM300 634h3v1h-3zM306 634h3v1h-3zM312 634h3v1h-3zM318 634h3v1h-3zM324 634h3v1h-3zM330 634h3v1h-3zM336 634h3v1h-3zM342 634h3v1h-3zM348 634h3v1h-3zM354 634h3v1h-3zM360 634h3v1h-3zM366 634h3v1h-3zM372 634h3v1h-3zM378 634h3v1h-3zM384 634h3v1h-3zM390 634h3v1h-3zM396 634h3v1h-3zM402 634h3v1h-3zM408 634h3v1h-3zM414 634h3v1h-3zM420 634h3v1h-3zM426 634h3v1h-3zM432 634h3v1h-3zM438 634h3v1h-3zM444 634h3v1h-3zM450 634h3v1h-3zM456 634h3v1h-3zM462 634h3v1h-3zM468 634h3v1h-3zM474 634h3v1h-3zM480 634h3v1h-3zM486 634h3v1h-3zM492 634h3v1h-3zM498 634h3v1h-3zM504 634h3v1h-3zM510 634h3v1h-3zM516 634h3v1h-3zM522 634h3v1h-3zM528 634h3v1h-3zM534 634h3v1h-3zM540 634h3v1h-3zM546 634h3v1h-3zM552 634h3v1h-3zM558 634h3v1h-3zM564 634h3v1h-3zM570 634h3v1h-3zM576 634h3v1h-3zM582 634h3v1h-3zM588 634h3v1h-3zM594 634h3v1h-3zM600 634h3v1h-3zM606 634h3v1h-3zM612 634h3v1h-3zM618 634h3v1h-3zM624 634h3v1h-3zM630 634h3v1h-3zM636 634h3v1h-3zM642 634h3v1h-3zM648 634h3v1h-3zM654 634h3v1h-3zM660 634h3v1h-3zM666 634h3v1h-3zM672 634h3v1h-3zM678 634h3v1h-3zM684 634h3v1h-3zM690 634h3v1h-3zM696 634h3v1h-3zM702 634h3v1h-3zM708 634h3v1h-3zM714 634h3v1h-3zM720 634h3v1h-3zM726 634h3v1h-3zM732 634h3v1h-3zM738 634h3v1h-3zM744 634h3v1h-3zM750 634h3v1h-3zM756 634h3v1h-3zM762 634h3v1h-3zM768 634h3v1h-3zM774 634h3v1h-3zM780 634h3v1h-3zM786 634h3v1h-3zM792 634h3v1h-3zM798 634h3v1h-3zM804 634h3v1h-3zM810 634h3v1h-3zM816 634h3v1h-3zM822 634h3v1h-3zM828 634h3v1h-3zM834 634h3v1h-3zM840 634h3v1h-3zM846 634h3v1h-3zM852 634h3v1h-3zM858 634h3v1h-3zM864 634h3v1h-3zM870 634h3v1h-3zM876 634h3v1h-3zM882 634h3v1h-3zM888 634h3v1h-3zM894 634h3v1h-3zM900 634h3v1h-3zM906 634h3v1h-3zM912 634h3v1h-3zM918 634h3v1h-3zM924 634h3v1h-3zM930 634h3v1h-3zM936 634h3v1h-3zM942 634h3v1h-3zM948 634h3v1h-3zM954 634h3v1h-3zM960 634h3v1h-3zM966 634h3v1h-3zM972 634h3v1h-3zM978 634h3v1h-3zM984 634h3v1h-3zM990 634h3v1h-3zM996 634h3v1h-3zM1002 634h3v1h-3zM1008 634h3v1h-3zM1014 634h3v1h-3zM1020 634h3v1h-3zM1026 634h3v1h-3zM1032 634h3v1h-3zM1038 634h3v1h-3zM1044 634h3v1h-3zM1050 634h3v1h-3zM1056 634h3v1h-3zM1062 634h3v1h-3zM1068 634h3v1h-3zM1074 634h3v1h-3zM1080 634h3v1h-3zM1086 634h3v1h-3zM1092 634h3v1h-3zM1098 634h3v1h-3zM1104 634h3v1h-3zM1110 634h3v1h-3zM1116 634h3v1h-3zM1122 634h3v1h-3zM1128 634h3v1h-3zM1134 634h3v1h-3zM1140 634h3v1h-3zM1146 634h3v1h-3zM1152 634h3v1h-3zM1158 634h3v1h-3zM1164 634h3v1h-3z" fill="#c0c0c0"/>
<path class="c" d="M5 620h1v1h-1zM6 621h1v1h-1zM7 622h1v1h-1zM8 623h1v1h-1zM9 624h1v1h-1zM10 625h1v1h-1zM11 626h1v1h-1zM12 627h1v1h-1zM13 628h1v1h-1zM14 627h2v1h-2zM16 626h1v1h-1zM17 626h1v1h-1zM18 627h2v1h-2zM20 628h1v1h-1zM21 628h1v1h-1zM22 627h2v1h-2zM24 626h1v1h-1zM25 626h2v1h-2zM27 627h2v1h-2zM29 627h1v1h-1zM30 628h1v1h-1zM31 629h2v1h-2zM33 630h1v1h-1zM34 628h1v2h-1zM35 627h1v1h-1zM36 625h1v2h-1zM37 624h1v1h-1zM38 622h1v2h-1zM39 621h1v1h-1zM40 619h1v2h-1zM41 618h1v1h-1zM42 616h1v2h-1zM43 615h1v1h-1zM44 613h1v2h-1zM45 612h1v1h-1zM46 613h1v1h-1zM47 614h2v1h-2zM49 615h2v1h-2zM51 614h2v1h-2zM53 614h1v1h-1zM54 613h1v1h-1zM55 612h2v1h-2zM57 611h1v1h-1zM58 612h1v1h-1zM59 613h2v1h-2zM61 614h1v1h-1zM62 615h2v1h-2zM64 616h1v1h-1zM65 616h2v1h-2zM67 615h2v1h-2zM69 615h1v1h-1zM70 614h1v1h-1zM71 613h1v1h-1zM72 612h1v1h-1zM73 611h1v1h-1zM74 610h2v1h-2zM76 609h1v1h-1zM77 609h1v1h-1zM78 610h1v2h-1zM79 612h1v1h-1zM80 613h1v2h-1zM81 615h1v1h-1zM82 614h1v1h-1zM83 613h2v1h-2zM85 612h1v1h-1zM86 613h2v1h-2zM88 614h1v1h-1zM89 614h2v1h-2zM91 613h2v1h-2zM93 612h1v2h-1zM94 610h1v2h-1zM95 608h1v2h-1zM96 606h1v2h-1zM97 605h1v1h-1zM97 604h2v1h-2zM99 605h2v1h-2zM101 605h1v1h-1zM102 604h1v1h-1zM103 602h1v2h-1zM104 601h1v1h-1zM105 600h1v1h-1zM106 601h1v2h-1zM107 603h1v2h-1zM108 605h1v2h-1zM109 607h1v1h-1zM110 608h1v1h-1zM111 609h2v1h-2zM113 610h1v1h-1zM114 611h1v1h-1zM115 612h1v2h-1zM116 614h1v1h-1zM117 615h1v1h-1zM118 614h1v1h-1zM119 613h2v1h-2zM121 612h2v1h-2zM123 613h2v1h-2zM125 613h4v1h-4zM129 613h4v1h-4zM133 613h1v1h-1zM134 612h2v1h-2zM136 611h1v1h-1zM137 611h2v1h-2zM139 612h2v1h-2zM141 612h2v1h-2zM143 611h2v1h-2zM145 611h2v1h-2zM147 612h2v1h-2zM149 612h2v1h-2zM151 613h2v1h-2zM153 613h1v1h-1zM154 612h1v1h-1zM155 611h2v1h-2zM157 610h1v1h-1zM158 609h2v1h-2zM160 608h1v1h-1zM161 608h1v1h-1zM162 606h1v2h-1zM163 605h1v1h-1zM164 603h1v2h-1zM165 602h1v1h-1zM166 603h1v1h-1zM167 604h2v1h-2zM169 605h4v1h-4zM173 605h1v1h-1zM174 604h1v1h-1zM175 602h1v2h-1zM176 601h1v1h-1zM177 600h2v1h-2zM179 599h2v1h-2zM181 599h1v1h-1zM182 600h1v1h-1zM183 601h1v1h-1zM184 602h1v1h-1zM185 603h1v1h-1zM186 602h1v1h-1zM187 601h2v1h-2zM189 600h1v1h-1zM190 601h2v1h-2zM192 602h1v1h-1zM193 602h1v1h-1zM194 603h1v1h-1zM195 604h1v2h-1zM196 606h1v1h-1zM197 607h1v1h-1zM198 608h2v1h-2zM200 609h1v1h-1zM201 609h1v1h-1zM202 610h1v1h-1zM203 611h1v2h-1zM204 613h1v1h-1zM205 614h1v1h-1zM206 613h2v1h-2zM208 612h1v1h-1zM209 612h1v1h-1zM210 611h1v1h-1zM211 610h2v1h-2zM213 609h4v1h-4zM217 609h2v1h-2zM219 608h2v1h-2zM221 608h1v1h-1zM222 609h1v1h-1zM223 610h1v2h-1zM224 612h1v1h-1zM225 613h2v1h-2zM227 614h2v1h-2zM229 614h1v1h-1zM230 615h1v2h-1zM231 617h1v1h-1zM232 618h1v2h-1zM233 620h4v1h-4zM237 620h2v1h-2zM239 621h2v1h-2zM241 621h2v1h-2zM243 620h2v1h-2zM245 620h1v1h-1zM246 621h1v1h-1zM247 622h1v2h-1zM248 624h1v1h-1zM249 625h1v1h-1zM250 626h1v1h-1zM251 627h2v1h-2zM253 628h1v1h-1zM254 629h1v1h-1zM255 630h2v1h-2zM257 631h2v1h-2zM259 630h2v1h-2zM261 630h4v1h-4zM265 630h2v1h-2zM267 631h2v1h-2zM269 631h1v1h-1zM270 632h1v1h-1zM271 633h2v1h-2zM273 634h1v1h-1zM274 633h2v1h-2zM276 632h1v1h-1zM277 632h2v1h-2zM279 633h2v1h-2zM281 633h1v1h-1zM282 634h2v1h-2zM284 635h1v1h-1zM285 635h1v1h-1zM286 634h2v1h-2zM288 633h1v1h-1zM289 633h1v1h-1zM290 632h2v1h-2zM292 631h1v1h-1zM293 631h4v1h-4zM297 631h1v1h-1zM298 629h1v2h-1zM299 627h1v2h-1zM300 625h1v2h-1zM301 624h1v1h-1zM301 623h2v1h-2zM303 624h2v1h-2zM305 624h1v1h-1zM306 625h1v2h-1zM307 627h1v1h-1zM308 628h1v2h-1zM309 630h1v2h-1zM310 632h1v2h-1zM311 634h1v3h-1zM312 637h1v2h-1zM313 639h1v1h-1zM313 640h2v1h-2zM315 639h2v1h-2zM317 639h2v1h-2zM319 640h2v1h-2zM321 640h1v1h-1zM322 638h1v2h-1zM323 636h1v2h-1zM324 634h1v2h-1zM325 633h1v1h-1zM325 631h1v2h-1zM326 628h1v3h-1zM327 626h1v2h-1zM328 623h1v3h-1zM329 622h1v1h-1zM329 621h1v1h-1zM330 622h2v1h-2zM332 623h1v1h-1zM333 623h1v1h-1zM334 624h1v1h-1zM335 625h2v1h-2zM337 626h4v1h-4zM341 626h1v1h-1zM342 625h2v1h-2zM344 624h1v1h-1zM345 624h1v1h-1zM346 625h1v1h-1zM347 626h1v1h-1zM348 627h1v1h-1zM349 628h2v1h-2zM351 627h2v1h-2zM353 627h1v1h-1zM354 626h2v1h-2zM356 625h1v1h-1zM357 625h1v1h-1zM358 624h2v1h-2zM360 623h1v1h-1zM361 623h2v1h-2zM363 624h2v1h-2zM365 624h1v1h-1zM366 625h1v1h-1zM367 626h1v2h-1zM368 628h1v1h-1zM369 629h1v1h-1zM370 630h2v1h-2zM372 631h1v1h-1zM373 631h1v1h-1zM374 632h1v1h-1zM375 633h1v1h-1zM376 634h1v1h-1zM377 635h2v1h-2zM379 636h2v1h-2zM381 636h1v1h-1zM382 637h2v1h-2zM384 638h1v1h-1zM385 638h2v1h-2zM387 639h2v1h-2zM389 639h1v1h-1zM390 638h1v1h-1zM391 636h1v2h-1zM392 635h1v1h-1zM393 634h1v1h-1zM394 633h1v1h-1zM395 631h1v2h-1zM396 630h1v1h-1zM397 629h2v1h-2zM399 630h2v1h-2zM401 630h1v1h-1zM402 628h1v2h-1zM403 626h1v2h-1zM404 624h1v2h-1zM405 623h1v1h-1zM405 622h1v1h-1zM406 623h1v1h-1zM407 624h2v1h-2zM409 625h2v1h-2zM411 624h2v1h-2zM413 624h4v1h-4zM417 624h1v1h-1zM418 623h1v1h-1zM419 622h2v1h-2zM421 621h1v1h-1zM422 622h1v1h-1zM423 623h2v1h-2zM425 624h2v1h-2zM427 623h2v1h-2zM429 623h1v1h-1zM430 622h1v1h-1zM431 621h2v1h-2zM433 620h2v1h-2zM435 621h2v1h-2zM437 621h1v1h-1zM438 620h1v1h-1zM439 618h1v2h-1zM440 617h1v1h-1zM441 616h2v1h-2zM443 615h2v1h-2zM445 615h1v1h-1zM446 616h1v2h-1zM447 618h1v1h-1zM448 619h1v2h-1zM449 619h1v3h-1zM450 615h1v4h-1zM451 611h1v4h-1zM452 607h1v4h-1zM453 605h1v2h-1zM453 604h4v1h-4zM457 604h2v1h-2zM459 605h2v1h-2zM461 605h1v1h-1zM462 604h1v1h-1zM463 603h1v1h-1zM464 602h1v1h-1zM465 601h1v1h-1zM466 600h2v1h-2zM468 599h1v1h-1zM469 599h1v1h-1zM470 600h1v1h-1zM471 601h1v1h-1zM472 602h1v1h-1zM473 603h2v1h-2zM475 604h2v1h-2zM477 604h1v1h-1zM478 605h1v1h-1zM479 606h1v2h-1zM480 608h1v1h-1zM481 609h2v1h-2zM483 608h2v1h-2zM485 608h1v1h-1zM486 609h2v1h-2zM488 610h1v1h-1zM489 610h1v1h-1zM490 609h1v1h-1zM491 608h2v1h-2zM493 607h4v1h-4zM497 607h1v1h-1zM498 606h2v1h-2zM500 605h1v1h-1zM501 605h4v1h-4zM505 605h1v1h-1zM506 606h2v1h-2zM508 607h1v1h-1zM509 607h1v1h-1zM510 608h1v1h-1zM511 609h1v1h-1zM512 610h1v1h-1zM513 611h1v1h-1zM514 609h1v2h-1zM515 608h1v1h-1zM516 606h1v2h-1zM517 605h1v1h-1zM518 606h1v1h-1zM519 607h1v1h-1zM520 608h1v1h-1zM521 609h1v1h-1zM522 607h1v2h-1zM523 606h1v1h-1zM524 604h1v2h-1zM525 603h1v1h-1zM526 604h1v1h-1zM527 605h1v2h-1zM528 607h1v1h-1zM529 608h2v1h-2zM531 609h2v1h-2zM533 609h1v1h-1zM534 610h2v1h-2zM536 611h1v1h-1zM537 611h1v1h-1zM538 612h1v1h-1zM539 613h2v1h-2zM541 614h1v1h-1zM542 615h2v1h-2zM544 616h1v1h-1zM545 616h4v1h-4zM549 616h1v1h-1zM550 614h1v2h-1zM551 613h1v1h-1zM552 611h1v2h-1zM553 610h1v1h-1zM554 611h1v1h-1zM555 612h2v1h-2zM557 613h1v1h-1zM558 612h1v1h-1zM559 610h1v2h-1zM560 609h1v1h-1zM561 608h1v1h-1zM562 609h2v1h-2zM564 610h1v1h-1zM565 610h1v1h-1zM566 611h1v2h-1zM567 613h1v2h-1zM568 615h1v2h-1zM569 617h1v1h-1zM570 616h1v1h-1zM571 615h2v1h-2zM573 614h1v1h-1zM574 613h2v1h-2zM576 612h1v1h-1zM577 612h1v1h-1zM578 613h2v1h-2zM580 614h1v1h-1zM581 614h1v1h-1zM582 613h2v1h-2zM584 612h1v1h-1zM585 611h1v2h-1zM586 609h1v2h-1zM587 607h1v2h-1zM588 605h1v2h-1zM589 604h1v1h-1zM589 603h1v1h-1zM590 604h1v2h-1zM591 606h1v2h-1zM592 608h1v2h-1zM593 610h1v2h-1zM594 612h1v2h-1zM595 614h1v3h-1zM596 617h1v2h-1zM597 619h1v1h-1zM597 620h2v1h-2zM599 619h2v1h-2zM601 619h2v1h-2zM603 618h2v1h-2zM605 618h2v1h-2zM607 619h2v1h-2zM609 619h2v1h-2zM611 618h2v1h-2zM613 618h1v1h-1zM614 619h2v1h-2zM616 620h1v1h-1zM617 620h2v1h-2zM619 621h2v1h-2zM621 621h1v1h-1zM622 619h1v2h-1zM623 617h1v2h-1zM624 615h1v2h-1zM625 614h2v1h-2zM627 615h2v1h-2zM629 615h1v1h-1zM630 614h2v1h-2zM632 613h1v1h-1zM633 613h2v1h-2zM635 612h2v1h-2zM637 612h1v1h-1zM638 613h1v1h-1zM639 614h1v1h-1zM640 615h1v1h-1zM641 616h4v1h-4zM645 616h2v1h-2zM647 615h2v1h-2zM649 615h2v1h-2zM651 616h2v1h-2zM653 616h4v1h-4zM657 616h1v1h-1zM658 614h1v2h-1zM659 612h1v2h-1zM660 610h1v2h-1zM661 609h1v1h-1zM662 610h1v1h-1zM663 611h1v1h-1zM664 612h1v1h-1zM665 613h1v1h-1zM666 612h1v1h-1zM667 611h1v1h-1zM668 610h1v1h-1zM669 609h1v1h-1zM670 608h2v1h-2zM672 607h1v1h-1zM673 607h1v1h-1zM674 608h1v1h-1zM675 609h2v1h-2zM677 610h1v1h-1zM678 611h1v2h-1zM679 613h1v1h-1zM680 614h1v2h-1zM681 616h1v1h-1zM682 617h1v1h-1zM683 618h1v1h-1zM684 619h1v1h-1zM685 620h4v1h-4zM689 620h1v1h-1zM690 619h1v1h-1zM691 618h1v1h-1zM692 617h1v1h-1zM693 616h1v1h-1zM694 617h1v2h-1zM695 619h1v1h-1zM696 620h1v2h-1zM697 622h2v1h-2zM699 623h2v1h-2zM701 623h1v1h-1zM702 622h2v1h-2zM704 621h1v1h-1zM705 621h1v1h-1zM706 622h1v1h-1zM707 623h1v1h-1zM708 624h1v1h-1zM709 625h2v1h-2zM711 626h2v1h-2zM713 626h4v1h-4zM717 626h1v1h-1zM718 627h1v1h-1zM719 628h1v1h-1zM720 629h1v1h-1zM721 630h2v1h-2zM723 629h2v1h-2zM725 629h1v1h-1zM726 627h1v2h-1zM727 625h1v2h-1zM728 623h1v2h-1zM729 622h1v1h-1zM730 621h1v1h-1zM731 620h2v1h-2zM733 619h4v1h-4zM737 619h1v1h-1zM738 620h1v1h-1zM739 621h1v1h-1zM740 622h1v1h-1zM741 623h1v1h-1zM742 624h1v1h-1zM743 625h2v1h-2zM745 626h2v1h-2zM747 625h2v1h-2zM749 625h4v1h-4zM753 625h1v1h-1zM754 626h1v1h-1zM755 627h2v1h-2zM757 628h1v1h-1zM758 629h2v1h-2zM760 630h1v1h-1zM761 629h1v2h-1zM762 626h1v3h-1zM763 623h1v3h-1zM764 620h1v3h-1zM765 619h1v1h-1zM765 618h1v1h-1zM766 616h1v2h-1zM767 615h1v1h-1zM768 613h1v2h-1zM769 612h2v1h-2zM771 611h2v1h-2zM773 611h1v1h-1zM774 610h1v1h-1zM775 609h1v1h-1zM776 608h1v1h-1zM777 607h4v1h-4zM781 607h1v2h-1zM782 609h1v3h-1zM783 612h1v2h-1zM784 614h1v3h-1zM785 617h1v1h-1zM785 618h1v1h-1zM786 617h1v1h-1zM787 616h2v1h-2zM789 615h2v1h-2zM791 616h2v1h-2zM793 616h2v1h-2zM795 615h2v1h-2zM797 615h1v1h-1zM798 616h2v1h-2zM800 617h1v1h-1zM801 617h1v1h-1zM802 616h2v1h-2zM804 615h1v1h-1zM805 615h1v1h-1zM806 614h1v1h-1zM807 613h1v1h-1zM808 612h1v1h-1zM809 611h1v2h-1zM810 613h1v2h-1zM811 615h1v2h-1zM812 617h1v2h-1zM813 619h1v1h-1zM813 620h1v1h-1zM814 621h1v2h-1zM815 623h1v1h-1zM816 624h1v2h-1zM817 626h4v1h-4zM821 626h1v1h-1zM822 624h1v2h-1zM823 622h1v2h-1zM824 620h1v2h-1zM825 619h2v1h-2zM827 620h2v1h-2zM829 620h1v1h-1zM830 619h1v1h-1zM831 617h1v2h-1zM832 616h1v1h-1zM833 615h1v1h-1zM834 616h1v1h-1zM835 617h2v1h-2zM837 618h2v1h-2zM839 619h2v1h-2zM841 619h2v1h-2zM843 620h2v1h-2zM845 620h1v1h-1zM846 619h1v1h-1zM847 618h1v1h-1zM848 617h1v1h-1zM849 616h1v1h-1zM850 617h2v1h-2zM852 618h1v1h-1zM853 618h1v1h-1zM854 619h1v2h-1zM855 621h1v1h-1zM856 622h1v2h-1zM857 624h1v1h-1zM858 623h2v1h-2zM860 622h1v1h-1zM861 622h4v1h-4zM865 622h2v1h-2zM867 623h2v1h-2zM869 623h1v1h-1zM870 624h2v1h-2zM872 625h1v1h-1zM873 625h1v2h-1zM874 627h1v3h-1zM875 630h1v2h-1zM876 632h1v3h-1zM877 635h1v1h-1zM877 636h1v1h-1zM878 634h1v2h-1zM879 633h1v1h-1zM880 631h1v2h-1zM881 630h4v1h-4zM885 630h2v1h-2zM887 631h2v1h-2zM889 631h4v1h-4zM893 631h2v1h-2zM895 632h2v1h-2zM897 632h4v1h-4zM901 632h1v1h-1zM902 631h1v1h-1zM903 629h1v2h-1zM904 628h1v1h-1zM905 627h2v1h-2zM907 628h2v1h-2zM909 628h1v1h-1zM910 626h1v2h-1zM911 624h1v2h-1zM912 622h1v2h-1zM913 621h1v1h-1zM913 620h4v1h-4zM917 620h1v1h-1zM918 621h1v1h-1zM919 622h1v1h-1zM920 623h1v1h-1zM921 624h4v1h-4z" fill="#1e90ff"/>
</g>
<rect x="1167" y="49" width="2" height="2" fill="#ff0000"/>
<rect x="1169" y="44" width="38" height="11" fill="#ff0000"/>
<text x="1173" y="53"  font-size="9.8" fill="#fff" textLength="33" lengthAdjust="spacingAndGlyphs">6.58514</text>
<rect x="1167" y="174" width="2" height="2" fill="#ff0000"/>
<rect x="1169" y="169" width="38" height="11" fill="#ff0000"/>
<text x="1173" y="178"  font-size="9.8" fill="#fff" textLength="33" lengthAdjust="spacingAndGlyphs">6.51605</text>
<rect x="1167" y="292" width="2" height="2" fill="#00ff00"/>
<rect x="1169" y="287" width="38" height="11" fill="#00ff00"/>
<text x="1173" y="296"  font-size="9.8" fill="#fff" textLength="33" lengthAdjust="spacingAndGlyphs">6.45060</text>
<rect x="1167" y="383" width="2" height="2" fill="#0000ff"/>
<rect x="1169" y="378" width="38" height="11" fill="#0000ff"/>
<text x="1173" y="387"  font-size="9.8" fill="#fff" textLength="33" lengthAdjust="spacingAndGlyphs">6.40042</text>
<rect x="1167" y="474" width="2" height="2" fill="#0000ff"/>
<rect x="1169" y="469" width="38" height="11" fill="#0000ff"/>
<text x="1173" y="478"  font-size="9.8" fill="#fff" textLength="33" lengthAdjust="spacingAndGlyphs">6.35025</text>
<rect x="1169" y="391" width="38" height="11" fill="#000"/>
<text x="1173" y="400"  font-size="9.8" fill="#fff" textLength="33" lengthAdjust="spacingAndGlyphs">6.39376</text>
<rect x="1168" y="488" width="2" height="1" fill="#000" />
<text x="1171" y="497.3" font-size="9.8" fill="#000" stroke="#000" stroke-width="0.25" textLength="37.5" lengthAdjust="spacingAndGlyphs" >0.025108</text>
<rect x="1168" y="525" width="2" height="1" fill="#000" />
<text x="1171" y="529.5" font-size="9.8" fill="#000" stroke="#000" stroke-width="0.25" textLength="17.8" lengthAdjust="spacingAndGlyphs" >0.00</text>
<rect x="1168" y="569" width="2" height="1" fill="#000" />
<text x="1171" y="567.5" font-size="9.8" fill="#000" stroke="#000" stroke-width="0.25" textLength="40.3" lengthAdjust="spacingAndGlyphs" >-0.029888</text>
<rect x="1168" y="574" width="2" height="1" fill="#000" />
<text x="1171" y="583.5" font-size="9.8" fill="#000" stroke="#000" stroke-width="0.25" textLength="15.2" lengthAdjust="spacingAndGlyphs" >100</text>
<text x="1170.5" y="603.5" font-size="9.8" fill="#000" stroke="#000" stroke-width="0.25" textLength="10.4" lengthAdjust="spacingAndGlyphs" >70</text>
<text x="1170.5" y="638.5" font-size="9.8" fill="#000" stroke="#000" stroke-width="0.25" textLength="10.4" lengthAdjust="spacingAndGlyphs" >30</text>
<text x="1171" y="657.2" font-size="9.8" fill="#000" stroke="#000" stroke-width="0.25" >0</text>
<rect x="1168" y="660" width="1" height="1" fill="#000" />
<rect x="5" y="660" width="1" height="4" fill="#000" />
<text x="3.9" y="673" font-size="10" fill="#000" stroke="#000" stroke-width="0.25" textLength="47.0" lengthAdjust="spacingAndGlyphs" >6 Feb 2021</text>
<rect x="69" y="660" width="1" height="4" fill="#000" />
<text x="67.9" y="673" font-size="10" fill="#000" stroke="#000" stroke-width="0.25" textLength="51.900000000000006" lengthAdjust="spacingAndGlyphs" >25 Feb 2021</text>
<rect x="133" y="660" width="1" height="4" fill="#000" />
<text x="131.9" y="673" font-size="10" fill="#000" stroke="#000" stroke-width="0.25" textLength="51.6" lengthAdjust="spacingAndGlyphs" >16 Mar 2021</text>
<rect x="197" y="660" width="1" height="4" fill="#000" />
<text x="195.9" y="673" font-size="10" fill="#000" stroke="#000" stroke-width="0.25" textLength="45.400000000000006" lengthAdjust="spacingAndGlyphs" >3 Apr 2021</text>
<rect x="261" y="660" width="1" height="4" fill="#000" />
<text x="259.9" y="673" font-size="10" fill="#000" stroke="#000" stroke-width="0.25" textLength="51.1" lengthAdjust="spacingAndGlyphs" >22 Apr 2021</text>
<rect x="325" y="660" width="1" height="4" fill="#000" />
<text x="323.9" y="673" font-size="10" fill="#000" stroke="#000" stroke-width="0.25" textLength="54.300000000000004" lengthAdjust="spacingAndGlyphs" >11 May 2021</text>
<rect x="389" y="660" width="1" height="4" fill="#000" />
<text x="387.9" y="673" font-size="10" fill="#000" stroke="#000" stroke-width="0.25" textLength="54.7" lengthAdjust="spacingAndGlyphs" >29 May 2021</text>
<rect x="453" y="660" width="1" height="4" fill="#000" />
<text x="451.9" y="673" font-size="10" fill="#000" stroke="#000" stroke-width="0.25" textLength="48.800000000000004" lengthAdjust="spacingAndGlyphs" >17 Jun 2021</text>
<rect x="517" y="660" width="1" height="4" fill="#000" />
<text x="515.9" y="673" font-size="10" fill="#000" stroke="#000" stroke-width="0.25" textLength="41.1" lengthAdjust="spacingAndGlyphs" >6 Jul 2021</text>
<rect x="581" y="660" width="1" height="4" fill="#000" />
<text x="579.9" y="673" font-size="10" fill="#000" stroke="#000" stroke-width="0.25" textLength="47.1" lengthAdjust="spacingAndGlyphs" >24 Jul 2021</text>
<rect x="645" y="660" width="1" height="4" fill="#000" />
<text x="643.9" y="673" font-size="10" fill="#000" stroke="#000" stroke-width="0.25" textLength="52.1" lengthAdjust="spacingAndGlyphs" >12 Aug 2021</text>
<rect x="709" y="660" width="1" height="4" fill="#000" />
<text x="707.9" y="673" font-size="10" fill="#000" stroke="#000" stroke-width="0.25" textLength="52.900000000000006" lengthAdjust="spacingAndGlyphs" >31 Aug 2021</text>
<rect x="773" y="660" width="1" height="4" fill="#000" />
<text x="771.9" y="673" font-size="10" fill="#000" stroke="#000" stroke-width="0.25" textLength="51.400000000000006" lengthAdjust="spacingAndGlyphs" >18 Sep 2021</text>
<rect x="837" y="660" width="1" height="4" fill="#000" />
<text x="835.9" y="673" font-size="10" fill="#000" stroke="#000" stroke-width="0.25" textLength="45.5" lengthAdjust="spacingAndGlyphs" >7 Oct 2021</text>
<rect x="901" y="660" width="1" height="4" fill="#000" />
<text x="899.9" y="673" font-size="10" fill="#000" stroke="#000" stroke-width="0.25" textLength="50.800000000000004" lengthAdjust="spacingAndGlyphs" >26 Oct 2021</text>
<rect x="0" y="681" width="1207" height="1" fill="#e6e6e6" />
<rect x="0" y="683" width="1207" height="1" fill="#000" />
<rect x="0" y="684" width="1207" height="1" fill="#fafafa" />
<rect x="0" y="685" width="1207" height="18" fill="#f0f0f0" />
<rect x="0" y="703" width="1207" height="1" fill="#fcfcfc" />
<rect x="0" y="704" width="1207" height="1" fill="#f0f0f0" />
<rect x="0" y="705" width="1207" height="1" fill="#d4d4d4" />
<rect x="0" y="706" width="1207" height="2" fill="#a4a4a4" />
<rect x="0" y="684" width="1" height="19" fill="#a8a8a8" />
<rect x="1" y="684" width="1" height="19" fill="#696969" />
<text x="17.9" y="697.5" font-size="12" fill="#6e6e6e" textLength="79.8" lengthAdjust="spacingAndGlyphs" >EURUSD,Daily</text>
<text x="121" y="697.5" font-size="12" fill="#6e6e6e" textLength="81.6" lengthAdjust="spacingAndGlyphs" >AUDUSD,Daily</text>
<text x="224.5" y="697.5" font-size="12" fill="#6e6e6e" textLength="65.8" lengthAdjust="spacingAndGlyphs" >USDCHF,H4</text>
<text x="313.3" y="697.5" font-size="12" fill="#6e6e6e" textLength="80.5" lengthAdjust="spacingAndGlyphs" >USDCAD,Daily</text>
<text x="522.7" y="697.5" font-size="12" fill="#6e6e6e" textLength="51.0" lengthAdjust="spacingAndGlyphs" >UKOil,H1</text>
<text x="596" y="697.5" font-size="12" fill="#6e6e6e" textLength="46.6" lengthAdjust="spacingAndGlyphs" >DJ30,H1</text>
<text x="665.2" y="697.5" font-size="12" fill="#6e6e6e" textLength="77.8" lengthAdjust="spacingAndGlyphs" >USDX,Weekly</text>
<text x="765.3" y="697.5" font-size="12" fill="#6e6e6e" textLength="80.3" lengthAdjust="spacingAndGlyphs" >XAUUSD,Daily</text>
<text x="870.4" y="697.5" font-size="12" fill="#6e6e6e" textLength="67.3" lengthAdjust="spacingAndGlyphs" >GBPUSD,H1</text>
<text x="961.3" y="697.5" font-size="12" fill="#6e6e6e" textLength="77.7" lengthAdjust="spacingAndGlyphs" >USDX,Weekly</text>
<rect x="110" y="686" width="1" height="14" fill="#6c6c6c" />
<rect x="214" y="686" width="1" height="14" fill="#6c6c6c" />
<rect x="303" y="686" width="1" height="14" fill="#6c6c6c" />
<rect x="586" y="686" width="1" height="14" fill="#6c6c6c" />
<rect x="654" y="686" width="1" height="14" fill="#6c6c6c" />
<rect x="754" y="686" width="1" height="14" fill="#6c6c6c" />
<rect x="858" y="686" width="1" height="14" fill="#6c6c6c" />
<rect x="950" y="686" width="1" height="14" fill="#6c6c6c" />
<rect x="1050" y="686" width="1" height="14" fill="#6c6c6c" />
<rect x="406" y="683" width="104" height="19" fill="#fff" />
<rect x="406" y="683" width="1" height="19" fill="#000" />
<rect x="509" y="683" width="1" height="19" fill="#000" />
<rect x="406" y="701" width="104" height="1" fill="#000" />
<text x="416.7" y="697.5" font-size="12" fill="#000" textLength="82.3" lengthAdjust="spacingAndGlyphs" >USDCNH,Daily</text>
<path d="M1186.3 688.5 L1186.3 695.2 L1182.8 691.8 Z" fill="#b4b4b4"/>
<path d="M1201.6 688.5 L1201.6 695.2 L1205 691.8 Z" fill="#8c8c8c"/>
<text x="9.4" y="499" font-size="10" fill="#000" stroke="#000" stroke-width="0.25" textLength="153.6" lengthAdjust="spacingAndGlyphs" >MACD(12,26,9) -0.013123 -0.016722</text>
<text x="9.4" y="585" font-size="10" fill="#000" stroke="#000" stroke-width="0.25" textLength="67.3" lengthAdjust="spacingAndGlyphs" >RSI(14) 41.2064</text>
<rect x="6" y="38" width="223" height="65" fill="#fff"/>
<path d="M8 35.1 L15.2 35.1 L11.6 31 Z" fill="#000"/>
<text x="20.6" y="36" font-size="10" fill="#000" stroke="#000" stroke-width="0.25" textLength="65.2" lengthAdjust="spacingAndGlyphs">USDCNH,Daily</text>
<text x="91.8" y="36" font-size="10" fill="#000" stroke="#000" stroke-width="0.25" textLength="32.4" lengthAdjust="spacingAndGlyphs">6.39400</text>
<text x="128" y="36" font-size="10" fill="#000" stroke="#000" stroke-width="0.25" textLength="32.4" lengthAdjust="spacingAndGlyphs">6.39694</text>
<text x="164.3" y="36" font-size="10" fill="#000" stroke="#000" stroke-width="0.25" textLength="32.4" lengthAdjust="spacingAndGlyphs">6.39151</text>
<text x="200.3" y="36" font-size="10" fill="#000" stroke="#000" stroke-width="0.25" textLength="32.4" lengthAdjust="spacingAndGlyphs">6.39376</text>
<path class="c" d="M8 44 H60 V68 H117 V101 H8 Z" fill="url(#gb)"/>
<path class="c" d="M175 44 H227 V101 H119 V68 H175 Z" fill="url(#gb)"/>
<path class="c" d="M8 44h52v1h-51v56h-1z M175 44h52v1h-51v24h-1z M119 68h1v33h-1z" fill="#1818b8" fill-opacity="0.45"/>
<rect x="12" y="68" width="44" height="1" fill="#9a9af8"/>
<rect x="179" y="68" width="44" height="1" fill="#9a9af8"/>
<rect x="62" y="44" width="111" height="22" fill="#fff" stroke="none"/>
<rect x="62.5" y="44.5" width="110" height="21" fill="#fff" stroke="#c4c4c4" stroke-width="1"/>
<rect x="63" y="45" width="20" height="20" fill="url(#gg)"/>
<rect x="83" y="45" width="1" height="20" fill="#c4c4c4"/>
<rect x="152" y="45" width="20" height="20" fill="url(#gg)"/>
<rect x="151" y="45" width="1" height="20" fill="#c4c4c4"/>
<path d="M69.5 53 L75 53 L72.25 56.2 Z" fill="#5468b4"/>
<path d="M158.8 56.5 L164.6 56.5 L161.7 53.2 Z" fill="#5468b4"/>
<text x="124.4" y="58.8" font-size="11.2" fill="#000" textLength="22.8" lengthAdjust="spacingAndGlyphs">3.00</text>
<text x="20.6" y="59.6" font-size="12.2" fill="#fff" textLength="25.6" lengthAdjust="spacingAndGlyphs">SELL</text>
<text x="188.6" y="59.6" font-size="12.2" fill="#fff" textLength="23.4" lengthAdjust="spacingAndGlyphs">BUY</text>
<text x="28.2" y="95.4" font-size="11.2" font-weight="bold" fill="#fff" textLength="23.7" lengthAdjust="spacingAndGlyphs">6.39</text>
<text x="56" y="96" font-size="33" fill="#fff" textLength="33.5" lengthAdjust="spacingAndGlyphs">37</text>
<text x="95" y="79.8" font-size="11.2" font-weight="bold" fill="#fff">9</text>
<text x="138.2" y="95.4" font-size="11.2" font-weight="bold" fill="#fff" textLength="23.7" lengthAdjust="spacingAndGlyphs">6.39</text>
<text x="166.4" y="96" font-size="33" fill="#fff" textLength="35.5" lengthAdjust="spacingAndGlyphs">86</text>
<text x="206.6" y="79.8" font-size="11.2" font-weight="bold" fill="#fff">0</text>
</svg>
</body></html>
